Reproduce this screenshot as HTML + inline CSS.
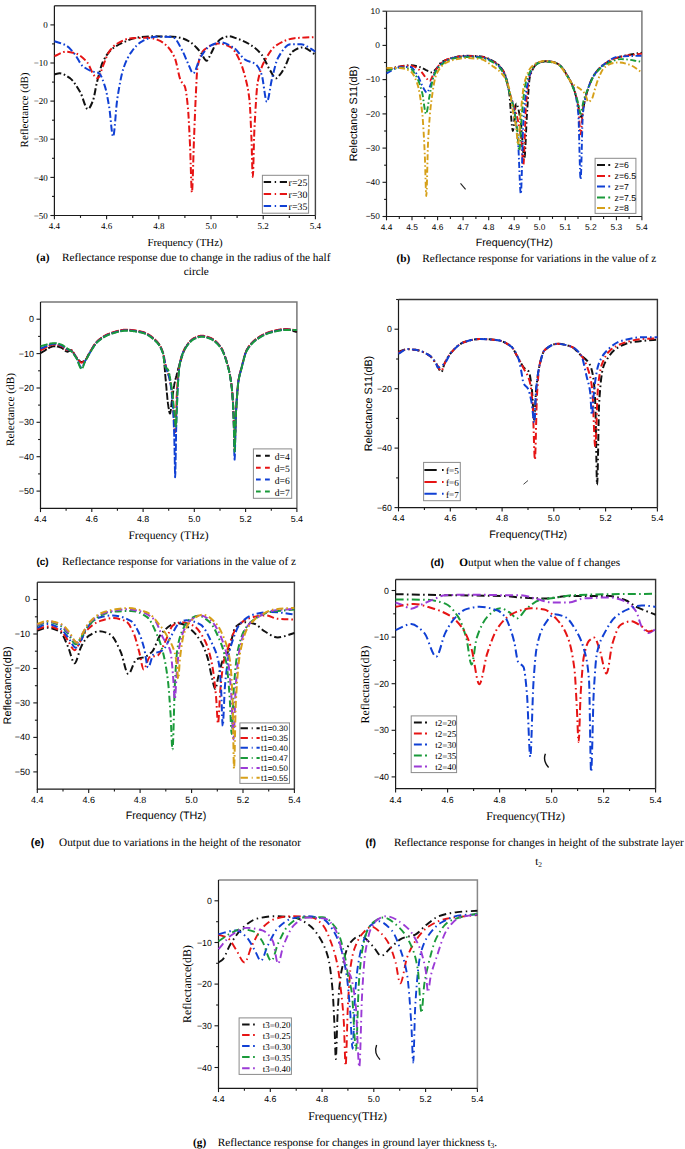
<!DOCTYPE html>
<html><head><meta charset="utf-8"><style>
html,body{margin:0;padding:0;background:#fff;}
svg{display:block;}
text{text-rendering:geometricPrecision;}
</style></head><body>
<svg width="685" height="1149" viewBox="0 0 685 1149">
<rect width="685" height="1149" fill="#fff"/>
<path d="M54.40,5.80 H315.40 V215.50" fill="none" stroke="#444" stroke-width="1.4"/>
<path d="M54.40,5.80 V215.50 H315.40" fill="none" stroke="#1a1a1a" stroke-width="1.2"/>
<line x1="50.4" y1="24.9" x2="54.4" y2="24.9" stroke="#1a1a1a" stroke-width="1.1"/>
<text x="47.8" y="28.1" font-size="9" font-family='"Liberation Serif", serif' text-anchor="end" font-weight="normal" >0</text>
<line x1="50.4" y1="63.0" x2="54.4" y2="63.0" stroke="#1a1a1a" stroke-width="1.1"/>
<text x="47.8" y="66.2" font-size="9" font-family='"Liberation Serif", serif' text-anchor="end" font-weight="normal" >−10</text>
<line x1="50.4" y1="101.1" x2="54.4" y2="101.1" stroke="#1a1a1a" stroke-width="1.1"/>
<text x="47.8" y="104.3" font-size="9" font-family='"Liberation Serif", serif' text-anchor="end" font-weight="normal" >−20</text>
<line x1="50.4" y1="139.2" x2="54.4" y2="139.2" stroke="#1a1a1a" stroke-width="1.1"/>
<text x="47.8" y="142.4" font-size="9" font-family='"Liberation Serif", serif' text-anchor="end" font-weight="normal" >−30</text>
<line x1="50.4" y1="177.4" x2="54.4" y2="177.4" stroke="#1a1a1a" stroke-width="1.1"/>
<text x="47.8" y="180.6" font-size="9" font-family='"Liberation Serif", serif' text-anchor="end" font-weight="normal" >−40</text>
<line x1="50.4" y1="215.5" x2="54.4" y2="215.5" stroke="#1a1a1a" stroke-width="1.1"/>
<text x="47.8" y="218.7" font-size="9" font-family='"Liberation Serif", serif' text-anchor="end" font-weight="normal" >−50</text>
<line x1="52.0" y1="43.9" x2="54.4" y2="43.9" stroke="#1a1a1a" stroke-width="1.1"/>
<line x1="52.0" y1="82.1" x2="54.4" y2="82.1" stroke="#1a1a1a" stroke-width="1.1"/>
<line x1="52.0" y1="120.2" x2="54.4" y2="120.2" stroke="#1a1a1a" stroke-width="1.1"/>
<line x1="52.0" y1="158.3" x2="54.4" y2="158.3" stroke="#1a1a1a" stroke-width="1.1"/>
<line x1="52.0" y1="196.4" x2="54.4" y2="196.4" stroke="#1a1a1a" stroke-width="1.1"/>
<line x1="54.4" y1="215.5" x2="54.4" y2="219.3" stroke="#1a1a1a" stroke-width="1.1"/>
<text x="54.4" y="228.7" font-size="9" font-family='"Liberation Serif", serif' text-anchor="middle" font-weight="normal" >4.4</text>
<line x1="106.6" y1="215.5" x2="106.6" y2="219.3" stroke="#1a1a1a" stroke-width="1.1"/>
<text x="106.6" y="228.7" font-size="9" font-family='"Liberation Serif", serif' text-anchor="middle" font-weight="normal" >4.6</text>
<line x1="158.8" y1="215.5" x2="158.8" y2="219.3" stroke="#1a1a1a" stroke-width="1.1"/>
<text x="158.8" y="228.7" font-size="9" font-family='"Liberation Serif", serif' text-anchor="middle" font-weight="normal" >4.8</text>
<line x1="211.0" y1="215.5" x2="211.0" y2="219.3" stroke="#1a1a1a" stroke-width="1.1"/>
<text x="211.0" y="228.7" font-size="9" font-family='"Liberation Serif", serif' text-anchor="middle" font-weight="normal" >5.0</text>
<line x1="263.2" y1="215.5" x2="263.2" y2="219.3" stroke="#1a1a1a" stroke-width="1.1"/>
<text x="263.2" y="228.7" font-size="9" font-family='"Liberation Serif", serif' text-anchor="middle" font-weight="normal" >5.2</text>
<line x1="315.4" y1="215.5" x2="315.4" y2="219.3" stroke="#1a1a1a" stroke-width="1.1"/>
<text x="315.4" y="228.7" font-size="9" font-family='"Liberation Serif", serif' text-anchor="middle" font-weight="normal" >5.4</text>
<line x1="80.5" y1="215.5" x2="80.5" y2="217.9" stroke="#1a1a1a" stroke-width="1.1"/>
<line x1="132.7" y1="215.5" x2="132.7" y2="217.9" stroke="#1a1a1a" stroke-width="1.1"/>
<line x1="184.9" y1="215.5" x2="184.9" y2="217.9" stroke="#1a1a1a" stroke-width="1.1"/>
<line x1="237.1" y1="215.5" x2="237.1" y2="217.9" stroke="#1a1a1a" stroke-width="1.1"/>
<line x1="289.3" y1="215.5" x2="289.3" y2="217.9" stroke="#1a1a1a" stroke-width="1.1"/>
<path d="M54.4,74.4C56.1,74.0 57.9,73.3 59.6,73.3C63.1,73.3 66.6,75.8 70.1,78.2C73.5,80.7 77.0,86.7 80.5,92.7C82.9,97.0 85.4,109.1 87.8,109.1C89.5,109.1 91.1,105.1 92.8,101.1C94.2,97.8 95.6,87.9 96.9,82.4C98.9,74.6 100.9,66.0 102.9,61.8C105.7,56.0 108.5,52.1 111.3,49.6C116.1,45.5 120.9,43.3 125.7,41.3C129.0,39.8 132.4,38.3 135.8,37.8C141.3,37.0 146.8,36.3 152.3,36.3C159.1,36.3 165.8,36.4 172.6,36.7C175.8,36.8 178.9,37.4 182.0,38.2C184.7,38.9 187.4,40.3 190.1,42.0C192.3,43.4 194.5,45.5 196.6,47.7C197.9,49.1 199.3,50.7 200.6,52.3C202.6,54.8 204.6,60.7 206.6,60.7C208.0,60.7 209.5,56.1 211.0,53.5C212.6,50.7 214.1,46.4 215.7,44.3C217.6,41.8 219.5,39.5 221.4,38.6C224.0,37.4 226.5,36.3 229.0,36.3C231.7,36.3 234.4,37.7 237.1,38.6C241.3,40.0 245.5,41.8 249.6,44.3C253.6,46.7 257.6,49.8 261.6,54.6C264.4,58.0 267.2,65.9 270.0,70.2C272.0,73.3 274.0,78.2 276.0,78.2C277.4,78.2 278.8,76.0 280.2,74.4C281.6,72.8 282.9,70.4 284.3,67.9C287.0,63.3 289.7,53.4 292.4,51.6C295.8,49.2 299.2,47.4 302.6,47.4C306.9,47.4 311.1,52.2 315.4,54.6" fill="none" stroke="#111111" stroke-width="2.0" stroke-dasharray="7 2.6 1.6 2.6" stroke-linejoin="round"/>
<path d="M54.4,56.1C58.3,54.6 62.2,51.6 66.1,51.6C69.6,51.6 73.1,52.6 76.6,53.8C80.0,55.0 83.4,58.1 86.8,61.8C89.5,64.8 92.2,74.1 94.9,76.3C95.9,77.2 96.9,78.2 98.0,78.2C99.6,78.2 101.3,70.0 102.9,66.0C105.0,61.1 107.1,54.5 109.2,51.6C111.9,47.7 114.6,45.1 117.3,43.5C122.1,40.8 126.9,38.4 131.7,38.2C137.2,38.0 142.8,37.8 148.4,37.8C151.7,37.8 155.0,39.0 158.3,40.1C161.0,41.1 163.7,43.0 166.4,45.5C169.2,48.0 171.9,51.6 174.7,57.7C176.7,62.0 178.7,76.4 180.7,80.5C182.1,83.4 183.5,83.2 184.9,86.6C185.9,89.2 187.0,97.8 188.0,108.7C188.7,116.0 189.4,132.2 190.1,146.9C190.7,159.7 191.3,192.2 191.9,192.2C192.6,192.2 193.3,156.8 194.0,139.2C194.6,123.9 195.3,105.5 195.9,93.5C196.4,83.2 196.9,70.7 197.4,67.9C199.8,55.5 202.1,51.5 204.5,49.6C209.3,45.8 214.0,43.5 218.8,43.5C222.9,43.5 227.0,45.2 231.1,47.4C233.9,48.9 236.7,54.2 239.4,59.9C241.4,64.1 243.5,70.3 245.5,78.2C246.8,83.8 248.2,88.0 249.6,101.1C250.2,106.8 250.8,124.3 251.5,139.2C251.9,149.9 252.3,177.0 252.8,177.0C253.3,177.0 253.8,142.1 254.3,131.6C255.5,108.8 256.6,88.5 257.7,82.4C260.4,68.0 263.1,63.7 265.8,58.8C269.2,52.6 272.6,47.6 276.0,45.5C282.2,41.5 288.3,38.8 294.5,38.2C301.5,37.5 308.4,37.4 315.4,37.1" fill="none" stroke="#e61414" stroke-width="2.0" stroke-dasharray="7 2.6 1.6 2.6" stroke-linejoin="round"/>
<path d="M54.4,41.3C58.3,42.7 62.2,43.3 66.1,45.5C68.9,47.0 71.7,50.5 74.5,53.8C77.2,57.1 79.9,63.7 82.6,66.0C85.4,68.4 88.2,69.9 90.9,71.0C93.6,72.0 96.3,71.9 99.0,73.3C101.0,74.3 103.0,80.4 105.0,86.6C106.4,91.0 107.8,98.9 109.2,107.2C110.5,115.0 111.8,136.6 113.1,136.6C114.5,136.6 115.9,107.9 117.3,98.8C119.4,85.2 121.5,74.1 123.6,67.9C126.3,60.1 129.0,55.2 131.7,51.6C135.1,46.9 138.6,43.0 142.1,41.3C146.8,38.9 151.5,36.7 156.2,36.7C161.7,36.7 167.2,36.8 172.6,37.1C176.0,37.2 179.4,45.4 182.8,51.6C184.6,54.8 186.5,60.4 188.3,64.1C189.9,67.5 191.6,73.3 193.3,73.3C195.6,73.3 197.9,61.3 200.3,57.7C203.8,52.2 207.3,47.1 210.7,45.5C214.1,43.8 217.5,42.4 220.9,42.4C225.0,42.4 229.1,45.0 233.2,47.4C237.3,49.7 241.4,57.6 245.5,59.9C248.8,61.9 252.2,61.8 255.6,64.1C257.6,65.5 259.6,69.2 261.6,74.4C263.4,79.0 265.1,101.9 266.9,101.9C268.6,101.9 270.3,85.1 272.1,78.2C274.1,70.4 276.1,61.1 278.1,57.7C282.3,50.4 286.4,44.3 290.6,44.3C294.1,44.3 297.6,44.3 301.0,44.3C305.8,44.3 310.6,49.1 315.4,51.6" fill="none" stroke="#1040d4" stroke-width="2.0" stroke-dasharray="7 2.6 1.6 2.6" stroke-linejoin="round"/>
<rect x="262.4" y="175.3" width="46.2" height="37.9" fill="#fff" stroke="#8a8a8a" stroke-width="1"/>
<path d="M263.7,181.9 H271.1 M274.7,181.9 H276.1 M279.8,181.9 H287.0" stroke="#111111" stroke-width="2.0" fill="none"/>
<text x="288.6" y="185.5" font-size="9.9" font-family='"Liberation Serif", serif' text-anchor="start" font-weight="normal" >r=25</text>
<path d="M263.7,194.1 H271.1 M274.7,194.1 H276.1 M279.8,194.1 H287.0" stroke="#e61414" stroke-width="2.0" fill="none"/>
<text x="288.6" y="197.7" font-size="9.9" font-family='"Liberation Serif", serif' text-anchor="start" font-weight="normal" >r=30</text>
<path d="M263.7,205.9 H271.1 M274.7,205.9 H276.1 M279.8,205.9 H287.0" stroke="#1040d4" stroke-width="2.0" fill="none"/>
<text x="288.6" y="209.5" font-size="9.9" font-family='"Liberation Serif", serif' text-anchor="start" font-weight="normal" >r=35</text>
<text x="0" y="0" font-size="11" font-family='"Liberation Serif", serif' text-anchor="middle" transform="translate(28.2,110.0) rotate(-90)">Reflectance (dB)</text>
<text x="147.4" y="246.3" font-size="10.88" font-family='"Liberation Serif", serif' text-anchor="start" font-weight="normal" >Frequency (THz)</text>
<text x="36.3" y="261.1" font-size="11.3" font-family='"Liberation Serif", serif' text-anchor="start" font-weight="bold" >(a)</text>
<text x="62.0" y="261.1" font-size="11.28" font-family='"Liberation Serif", serif' text-anchor="start" font-weight="normal" >Reflectance response due to change in the radius of the half</text>
<text x="183.8" y="274.7" font-size="11.28" font-family='"Liberation Serif", serif' text-anchor="start" font-weight="normal" >circle</text>
<path d="M386.50,11.20 H641.90 V216.50" fill="none" stroke="#7a7a7a" stroke-width="1.5"/>
<path d="M386.50,11.20 V216.50 H641.90" fill="none" stroke="#1a1a1a" stroke-width="1.2"/>
<line x1="382.5" y1="11.2" x2="386.5" y2="11.2" stroke="#1a1a1a" stroke-width="1.1"/>
<text x="379.9" y="13.8" font-size="8.4" font-family='"Liberation Sans", sans-serif' text-anchor="end" font-weight="normal" >10</text>
<line x1="382.5" y1="45.4" x2="386.5" y2="45.4" stroke="#1a1a1a" stroke-width="1.1"/>
<text x="379.9" y="48.0" font-size="8.4" font-family='"Liberation Sans", sans-serif' text-anchor="end" font-weight="normal" >0</text>
<line x1="382.5" y1="79.6" x2="386.5" y2="79.6" stroke="#1a1a1a" stroke-width="1.1"/>
<text x="379.9" y="82.2" font-size="8.4" font-family='"Liberation Sans", sans-serif' text-anchor="end" font-weight="normal" >−10</text>
<line x1="382.5" y1="113.9" x2="386.5" y2="113.9" stroke="#1a1a1a" stroke-width="1.1"/>
<text x="379.9" y="116.5" font-size="8.4" font-family='"Liberation Sans", sans-serif' text-anchor="end" font-weight="normal" >−20</text>
<line x1="382.5" y1="148.1" x2="386.5" y2="148.1" stroke="#1a1a1a" stroke-width="1.1"/>
<text x="379.9" y="150.7" font-size="8.4" font-family='"Liberation Sans", sans-serif' text-anchor="end" font-weight="normal" >−30</text>
<line x1="382.5" y1="182.3" x2="386.5" y2="182.3" stroke="#1a1a1a" stroke-width="1.1"/>
<text x="379.9" y="184.9" font-size="8.4" font-family='"Liberation Sans", sans-serif' text-anchor="end" font-weight="normal" >−40</text>
<line x1="382.5" y1="216.5" x2="386.5" y2="216.5" stroke="#1a1a1a" stroke-width="1.1"/>
<text x="379.9" y="219.1" font-size="8.4" font-family='"Liberation Sans", sans-serif' text-anchor="end" font-weight="normal" >−50</text>
<line x1="384.1" y1="28.3" x2="386.5" y2="28.3" stroke="#1a1a1a" stroke-width="1.1"/>
<line x1="384.1" y1="62.5" x2="386.5" y2="62.5" stroke="#1a1a1a" stroke-width="1.1"/>
<line x1="384.1" y1="96.7" x2="386.5" y2="96.7" stroke="#1a1a1a" stroke-width="1.1"/>
<line x1="384.1" y1="131.0" x2="386.5" y2="131.0" stroke="#1a1a1a" stroke-width="1.1"/>
<line x1="384.1" y1="165.2" x2="386.5" y2="165.2" stroke="#1a1a1a" stroke-width="1.1"/>
<line x1="384.1" y1="199.4" x2="386.5" y2="199.4" stroke="#1a1a1a" stroke-width="1.1"/>
<line x1="386.5" y1="216.5" x2="386.5" y2="220.3" stroke="#1a1a1a" stroke-width="1.1"/>
<text x="386.5" y="229.5" font-size="8.4" font-family='"Liberation Sans", sans-serif' text-anchor="middle" font-weight="normal" >4.4</text>
<line x1="412.0" y1="216.5" x2="412.0" y2="220.3" stroke="#1a1a1a" stroke-width="1.1"/>
<text x="412.0" y="229.5" font-size="8.4" font-family='"Liberation Sans", sans-serif' text-anchor="middle" font-weight="normal" >4.5</text>
<line x1="437.6" y1="216.5" x2="437.6" y2="220.3" stroke="#1a1a1a" stroke-width="1.1"/>
<text x="437.6" y="229.5" font-size="8.4" font-family='"Liberation Sans", sans-serif' text-anchor="middle" font-weight="normal" >4.6</text>
<line x1="463.1" y1="216.5" x2="463.1" y2="220.3" stroke="#1a1a1a" stroke-width="1.1"/>
<text x="463.1" y="229.5" font-size="8.4" font-family='"Liberation Sans", sans-serif' text-anchor="middle" font-weight="normal" >4.7</text>
<line x1="488.7" y1="216.5" x2="488.7" y2="220.3" stroke="#1a1a1a" stroke-width="1.1"/>
<text x="488.7" y="229.5" font-size="8.4" font-family='"Liberation Sans", sans-serif' text-anchor="middle" font-weight="normal" >4.8</text>
<line x1="514.2" y1="216.5" x2="514.2" y2="220.3" stroke="#1a1a1a" stroke-width="1.1"/>
<text x="514.2" y="229.5" font-size="8.4" font-family='"Liberation Sans", sans-serif' text-anchor="middle" font-weight="normal" >4.9</text>
<line x1="539.7" y1="216.5" x2="539.7" y2="220.3" stroke="#1a1a1a" stroke-width="1.1"/>
<text x="539.7" y="229.5" font-size="8.4" font-family='"Liberation Sans", sans-serif' text-anchor="middle" font-weight="normal" >5.0</text>
<line x1="565.3" y1="216.5" x2="565.3" y2="220.3" stroke="#1a1a1a" stroke-width="1.1"/>
<text x="565.3" y="229.5" font-size="8.4" font-family='"Liberation Sans", sans-serif' text-anchor="middle" font-weight="normal" >5.1</text>
<line x1="590.8" y1="216.5" x2="590.8" y2="220.3" stroke="#1a1a1a" stroke-width="1.1"/>
<text x="590.8" y="229.5" font-size="8.4" font-family='"Liberation Sans", sans-serif' text-anchor="middle" font-weight="normal" >5.2</text>
<line x1="616.4" y1="216.5" x2="616.4" y2="220.3" stroke="#1a1a1a" stroke-width="1.1"/>
<text x="616.4" y="229.5" font-size="8.4" font-family='"Liberation Sans", sans-serif' text-anchor="middle" font-weight="normal" >5.3</text>
<line x1="641.9" y1="216.5" x2="641.9" y2="220.3" stroke="#1a1a1a" stroke-width="1.1"/>
<text x="641.9" y="229.5" font-size="8.4" font-family='"Liberation Sans", sans-serif' text-anchor="middle" font-weight="normal" >5.4</text>
<line x1="399.3" y1="216.5" x2="399.3" y2="218.9" stroke="#1a1a1a" stroke-width="1.1"/>
<line x1="424.8" y1="216.5" x2="424.8" y2="218.9" stroke="#1a1a1a" stroke-width="1.1"/>
<line x1="450.4" y1="216.5" x2="450.4" y2="218.9" stroke="#1a1a1a" stroke-width="1.1"/>
<line x1="475.9" y1="216.5" x2="475.9" y2="218.9" stroke="#1a1a1a" stroke-width="1.1"/>
<line x1="501.4" y1="216.5" x2="501.4" y2="218.9" stroke="#1a1a1a" stroke-width="1.1"/>
<line x1="527.0" y1="216.5" x2="527.0" y2="218.9" stroke="#1a1a1a" stroke-width="1.1"/>
<line x1="552.5" y1="216.5" x2="552.5" y2="218.9" stroke="#1a1a1a" stroke-width="1.1"/>
<line x1="578.0" y1="216.5" x2="578.0" y2="218.9" stroke="#1a1a1a" stroke-width="1.1"/>
<line x1="603.6" y1="216.5" x2="603.6" y2="218.9" stroke="#1a1a1a" stroke-width="1.1"/>
<line x1="629.1" y1="216.5" x2="629.1" y2="218.9" stroke="#1a1a1a" stroke-width="1.1"/>
<path d="M386.5,70.1C390.8,68.9 395.0,67.3 399.3,66.6C402.9,66.0 406.6,65.3 410.3,65.3C413.4,65.3 416.6,66.1 419.7,67.0C421.8,67.6 424.0,69.1 426.1,70.1C427.9,70.9 429.7,72.4 431.5,72.4C433.1,72.4 434.7,70.2 436.3,68.7C438.2,66.9 440.0,63.0 441.9,61.8C446.0,59.4 450.1,58.2 454.2,57.4C458.3,56.6 462.4,55.7 466.4,55.7C471.1,55.7 475.8,56.0 480.5,56.4C485.2,56.8 489.9,59.1 494.5,61.8C497.8,63.8 501.0,66.6 504.2,72.4C505.8,75.2 507.3,81.4 508.8,89.9C510.2,97.5 511.6,131.0 512.9,131.0C514.0,131.0 515.1,103.6 516.2,103.6C517.7,103.6 519.1,112.5 520.6,120.7C521.9,127.9 523.1,158.3 524.4,158.3C525.3,158.3 526.1,126.2 527.0,113.9C528.0,99.1 529.0,79.3 530.0,76.2C533.2,66.6 536.3,63.1 539.5,62.2C541.5,61.6 543.6,61.2 545.6,61.2C547.7,61.2 549.9,61.5 552.0,61.8C554.0,62.2 555.9,62.9 557.9,63.9C559.3,64.6 560.8,66.1 562.2,67.7C563.5,69.1 564.8,71.3 566.0,73.5C568.8,78.1 571.5,82.3 574.2,89.9C575.6,93.7 576.9,101.2 578.3,106.3C579.3,110.2 580.3,117.3 581.4,117.3C582.6,117.3 583.9,103.2 585.2,98.5C587.7,89.3 590.1,81.8 592.6,77.6C596.0,71.7 599.4,67.8 602.8,65.3C608.3,61.3 613.7,58.6 619.2,57.1C626.7,54.9 634.3,54.1 641.9,52.6" fill="none" stroke="#111111" stroke-width="1.9" stroke-dasharray="6 2.5 1.5 2.5" stroke-linejoin="round"/>
<path d="M386.5,70.7C390.8,69.4 395.0,67.2 399.3,66.6C402.9,66.1 406.6,65.6 410.3,65.6C413.4,65.6 416.6,67.8 419.7,70.1C421.8,71.5 424.0,75.8 426.1,77.9C427.3,79.1 428.5,81.0 429.7,81.0C431.0,81.0 432.4,75.7 433.7,73.5C436.5,69.1 439.2,63.9 441.9,62.2C446.0,59.6 450.1,58.1 454.2,57.4C458.3,56.7 462.4,56.0 466.4,56.0C471.1,56.0 475.8,56.3 480.5,56.7C485.2,57.1 489.9,59.4 494.5,62.2C497.8,64.1 501.0,66.9 504.2,72.8C505.8,75.6 507.3,84.6 508.8,89.9C510.6,96.1 512.4,101.0 514.2,107.0C515.5,111.3 516.8,114.9 518.0,120.7C519.1,125.7 520.2,132.0 521.4,141.2C522.0,146.9 522.7,165.2 523.4,165.2C524.2,165.2 525.1,117.9 525.9,107.0C527.1,91.7 528.3,79.5 529.5,76.2C532.8,67.1 536.2,63.1 539.5,62.2C541.5,61.6 543.6,61.2 545.6,61.2C547.7,61.2 549.9,61.5 552.0,61.8C554.0,62.2 555.9,62.9 557.9,63.9C559.3,64.6 560.8,66.1 562.2,67.7C563.5,69.1 564.8,71.3 566.0,73.5C568.8,78.1 571.5,82.2 574.2,89.9C575.6,93.7 576.9,98.2 578.3,107.0C579.1,112.0 579.8,134.4 580.6,134.4C581.5,134.4 582.3,112.0 583.2,107.0C584.3,100.5 585.4,97.6 586.5,94.0C588.5,87.4 590.6,81.1 592.6,77.6C596.0,71.7 599.4,67.8 602.8,65.3C608.3,61.3 613.7,58.4 619.2,57.1C626.7,55.2 634.3,54.8 641.9,53.6" fill="none" stroke="#e61414" stroke-width="1.9" stroke-dasharray="6 2.5 1.5 2.5" stroke-linejoin="round"/>
<path d="M386.5,73.5C390.8,71.4 395.0,67.6 399.3,67.3C402.9,67.1 406.6,67.0 410.3,67.0C412.6,67.0 414.8,71.2 417.1,74.5C419.3,77.6 421.4,84.8 423.5,88.2C424.6,90.0 425.7,92.6 426.9,92.6C428.3,92.6 429.7,86.5 431.2,83.1C432.9,78.9 434.6,71.8 436.3,69.4C438.9,65.7 441.4,63.7 444.0,62.2C447.4,60.1 450.8,58.4 454.2,57.7C458.3,57.0 462.4,56.4 466.4,56.4C471.1,56.4 475.8,56.6 480.5,57.1C485.2,57.5 489.9,59.7 494.5,62.5C497.8,64.5 501.0,67.6 504.2,73.5C505.8,76.3 507.3,84.2 508.8,89.9C510.6,96.5 512.4,101.0 514.2,110.4C515.5,117.2 516.8,126.6 518.0,141.2C519.0,152.0 519.9,193.9 520.8,193.9C521.7,193.9 522.5,133.3 523.4,120.7C524.6,103.1 525.8,92.6 527.0,86.5C528.7,77.8 530.4,71.9 532.1,69.4C534.5,65.7 537.0,63.4 539.5,62.5C541.5,61.8 543.6,61.2 545.6,61.2C547.7,61.2 549.9,61.5 552.0,61.8C554.0,62.2 555.9,62.9 557.9,63.9C559.3,64.6 560.8,66.1 562.2,67.7C563.5,69.1 564.8,71.3 566.0,73.5C568.8,78.1 571.5,81.3 574.2,89.9C575.6,94.2 576.9,99.7 578.3,113.9C579.1,121.8 579.8,179.5 580.6,179.5C581.4,179.5 582.1,121.3 582.9,113.9C584.1,102.2 585.3,98.4 586.5,94.0C588.5,86.4 590.6,81.1 592.6,77.6C596.0,71.7 599.4,67.9 602.8,65.3C607.9,61.3 613.0,57.1 618.1,56.7C626.1,56.0 634.0,56.0 641.9,55.7" fill="none" stroke="#1040d4" stroke-width="1.9" stroke-dasharray="6 2.5 1.5 2.5" stroke-linejoin="round"/>
<path d="M386.5,70.7C390.8,69.8 395.0,68.0 399.3,68.0C402.9,68.0 406.6,68.2 410.3,68.7C412.6,69.0 414.8,73.6 417.1,77.9C418.9,81.1 420.6,86.7 422.3,93.3C423.5,98.3 424.8,113.9 426.1,113.9C427.2,113.9 428.3,102.2 429.4,96.7C430.9,89.6 432.3,79.8 433.7,76.2C435.9,70.9 438.0,67.8 440.1,65.9C444.8,61.9 449.5,59.3 454.2,58.4C458.3,57.7 462.4,57.1 466.4,57.1C471.1,57.1 475.8,57.3 480.5,57.7C485.2,58.1 489.9,60.4 494.5,63.2C497.8,65.2 501.0,68.6 504.2,74.5C505.8,77.3 507.3,84.4 508.8,89.9C510.6,96.3 512.4,101.5 514.2,110.4C515.2,115.5 516.2,122.8 517.3,131.0C517.9,136.4 518.6,150.5 519.3,150.5C520.2,150.5 521.0,122.8 521.9,113.9C523.1,100.4 524.4,87.8 525.7,83.1C527.8,75.2 529.9,71.3 532.1,68.7C534.5,65.7 537.0,63.2 539.5,62.5C541.5,62.0 543.6,61.5 545.6,61.5C547.7,61.5 549.9,61.8 552.0,62.2C554.0,62.5 555.9,63.2 557.9,64.2C559.3,65.0 560.8,66.4 562.2,68.0C563.5,69.4 564.8,71.6 566.0,73.8C568.8,78.5 571.5,83.6 574.2,90.6C575.6,94.1 576.9,98.4 578.3,103.6C579.1,106.5 579.8,113.9 580.6,113.9C581.6,113.9 582.6,103.6 583.7,100.2C585.2,95.0 586.7,91.8 588.3,88.2C590.4,83.2 592.5,77.3 594.7,74.5C598.5,69.5 602.3,66.2 606.1,64.2C611.1,61.7 616.0,59.1 621.0,59.1C627.9,59.1 634.9,60.9 641.9,61.8" fill="none" stroke="#1a9a3a" stroke-width="1.9" stroke-dasharray="6 2.5 1.5 2.5" stroke-linejoin="round"/>
<path d="M386.5,68.0C390.8,68.0 395.0,68.0 399.3,68.0C402.9,68.0 406.6,69.2 410.3,71.1C412.6,72.3 414.8,76.7 417.1,83.1C418.9,87.8 420.6,98.1 422.3,113.9C423.1,121.7 424.0,137.4 424.8,154.9C425.3,165.4 425.8,196.0 426.3,196.0C426.9,196.0 427.5,152.2 428.1,141.2C429.2,120.9 430.3,108.6 431.5,100.2C433.1,87.9 434.7,78.0 436.3,74.5C439.3,68.0 442.3,65.0 445.2,63.2C448.2,61.5 451.2,60.4 454.2,59.8C458.3,58.9 462.4,58.1 466.4,58.1C471.1,58.1 475.8,58.5 480.5,59.1C484.5,59.6 488.5,63.1 492.5,65.9C496.4,68.7 500.3,71.1 504.2,76.6C505.9,78.8 507.5,82.6 509.1,88.2C510.5,93.2 512.0,106.2 513.4,113.9C514.4,118.8 515.3,121.3 516.2,127.5C516.8,131.5 517.4,144.6 518.0,144.6C518.9,144.6 519.7,122.2 520.6,113.9C521.9,101.4 523.1,88.0 524.4,83.1C526.5,74.8 528.7,70.0 530.8,67.7C533.7,64.5 536.6,62.6 539.5,61.8C541.5,61.3 543.6,60.8 545.6,60.8C547.7,60.8 549.9,61.3 552.0,61.8C554.0,62.3 555.9,63.1 557.9,64.2C559.3,65.1 560.8,66.9 562.2,68.7C563.5,70.3 564.8,72.6 566.0,74.5C568.3,77.9 570.6,82.0 572.9,84.1C574.6,85.6 576.3,86.3 578.0,87.5C579.8,88.7 581.5,89.8 583.2,91.6C584.0,92.5 584.9,93.8 585.7,95.4C586.6,97.0 587.4,101.9 588.3,101.9C589.5,101.9 590.8,100.3 592.1,98.5C592.9,97.2 593.8,92.6 594.7,89.9C595.4,87.4 596.2,84.9 596.9,82.7C598.0,79.8 599.0,77.1 600.0,74.8C601.0,72.6 602.1,70.2 603.1,69.0C605.0,66.8 606.8,65.5 608.7,64.6C610.4,63.8 612.1,63.1 613.8,62.9C615.5,62.7 617.2,62.5 618.9,62.5C622.3,62.5 625.7,63.6 629.1,64.6C633.4,65.8 637.6,69.8 641.9,72.4" fill="none" stroke="#d6a019" stroke-width="1.9" stroke-dasharray="6 2.5 1.5 2.5" stroke-linejoin="round"/>
<rect x="595.1" y="158.3" width="40.8" height="55.1" fill="#fff" stroke="#8a8a8a" stroke-width="1"/>
<path d="M597.0,165.0 H605.0 M608.3,165.0 H610.2" stroke="#111111" stroke-width="2.0" fill="none"/>
<text x="614.6" y="168.1" font-size="8.7" font-family='"Liberation Sans", sans-serif' text-anchor="start" font-weight="normal" >z=6</text>
<path d="M597.0,176.0 H605.0 M608.3,176.0 H610.2" stroke="#e61414" stroke-width="2.0" fill="none"/>
<text x="614.6" y="179.1" font-size="8.7" font-family='"Liberation Sans", sans-serif' text-anchor="start" font-weight="normal" >z=6.5</text>
<path d="M597.0,186.6 H605.0 M608.3,186.6 H610.2" stroke="#1040d4" stroke-width="2.0" fill="none"/>
<text x="614.6" y="189.7" font-size="8.7" font-family='"Liberation Sans", sans-serif' text-anchor="start" font-weight="normal" >z=7</text>
<path d="M597.0,197.4 H605.0 M608.3,197.4 H610.2" stroke="#1a9a3a" stroke-width="2.0" fill="none"/>
<text x="614.6" y="200.5" font-size="8.7" font-family='"Liberation Sans", sans-serif' text-anchor="start" font-weight="normal" >z=7.5</text>
<path d="M597.0,208.0 H605.0 M608.3,208.0 H610.2" stroke="#d6a019" stroke-width="2.0" fill="none"/>
<text x="614.6" y="211.1" font-size="8.7" font-family='"Liberation Sans", sans-serif' text-anchor="start" font-weight="normal" >z=8</text>
<text x="0" y="0" font-size="10.75" font-family='"Liberation Sans", sans-serif' text-anchor="middle" transform="translate(357.0,113.5) rotate(-90)">Relectance S11(dB)</text>
<text x="475.7" y="246.1" font-size="10.7" font-family='"Liberation Sans", sans-serif' text-anchor="start" font-weight="normal" >Frequency(THz)</text>
<text x="396.5" y="261.7" font-size="11.3" font-family='"Liberation Serif", serif' text-anchor="start" font-weight="bold" >(b)</text>
<text x="422.3" y="261.7" font-size="11.28" font-family='"Liberation Serif", serif' text-anchor="start" font-weight="normal" >Reflectance response for variations in the value of z</text>
<path d="M40.50,302.00 H296.90 V508.30" fill="none" stroke="#777" stroke-width="1.5"/>
<path d="M40.50,302.00 V508.30 H296.90" fill="none" stroke="#1a1a1a" stroke-width="1.2"/>
<line x1="36.5" y1="319.2" x2="40.5" y2="319.2" stroke="#1a1a1a" stroke-width="1.1"/>
<text x="33.9" y="322.3" font-size="8.9" font-family='"Liberation Sans", sans-serif' text-anchor="end" font-weight="normal" >0</text>
<line x1="36.5" y1="353.6" x2="40.5" y2="353.6" stroke="#1a1a1a" stroke-width="1.1"/>
<text x="33.9" y="356.7" font-size="8.9" font-family='"Liberation Sans", sans-serif' text-anchor="end" font-weight="normal" >−10</text>
<line x1="36.5" y1="388.0" x2="40.5" y2="388.0" stroke="#1a1a1a" stroke-width="1.1"/>
<text x="33.9" y="391.1" font-size="8.9" font-family='"Liberation Sans", sans-serif' text-anchor="end" font-weight="normal" >−20</text>
<line x1="36.5" y1="422.3" x2="40.5" y2="422.3" stroke="#1a1a1a" stroke-width="1.1"/>
<text x="33.9" y="425.4" font-size="8.9" font-family='"Liberation Sans", sans-serif' text-anchor="end" font-weight="normal" >−30</text>
<line x1="36.5" y1="456.7" x2="40.5" y2="456.7" stroke="#1a1a1a" stroke-width="1.1"/>
<text x="33.9" y="459.8" font-size="8.9" font-family='"Liberation Sans", sans-serif' text-anchor="end" font-weight="normal" >−40</text>
<line x1="36.5" y1="491.1" x2="40.5" y2="491.1" stroke="#1a1a1a" stroke-width="1.1"/>
<text x="33.9" y="494.2" font-size="8.9" font-family='"Liberation Sans", sans-serif' text-anchor="end" font-weight="normal" >−50</text>
<line x1="38.1" y1="336.4" x2="40.5" y2="336.4" stroke="#1a1a1a" stroke-width="1.1"/>
<line x1="38.1" y1="370.8" x2="40.5" y2="370.8" stroke="#1a1a1a" stroke-width="1.1"/>
<line x1="38.1" y1="405.1" x2="40.5" y2="405.1" stroke="#1a1a1a" stroke-width="1.1"/>
<line x1="38.1" y1="439.5" x2="40.5" y2="439.5" stroke="#1a1a1a" stroke-width="1.1"/>
<line x1="38.1" y1="473.9" x2="40.5" y2="473.9" stroke="#1a1a1a" stroke-width="1.1"/>
<line x1="40.5" y1="508.3" x2="40.5" y2="512.1" stroke="#1a1a1a" stroke-width="1.1"/>
<text x="40.5" y="522.0" font-size="8.9" font-family='"Liberation Sans", sans-serif' text-anchor="middle" font-weight="normal" >4.4</text>
<line x1="91.8" y1="508.3" x2="91.8" y2="512.1" stroke="#1a1a1a" stroke-width="1.1"/>
<text x="91.8" y="522.0" font-size="8.9" font-family='"Liberation Sans", sans-serif' text-anchor="middle" font-weight="normal" >4.6</text>
<line x1="143.1" y1="508.3" x2="143.1" y2="512.1" stroke="#1a1a1a" stroke-width="1.1"/>
<text x="143.1" y="522.0" font-size="8.9" font-family='"Liberation Sans", sans-serif' text-anchor="middle" font-weight="normal" >4.8</text>
<line x1="194.3" y1="508.3" x2="194.3" y2="512.1" stroke="#1a1a1a" stroke-width="1.1"/>
<text x="194.3" y="522.0" font-size="8.9" font-family='"Liberation Sans", sans-serif' text-anchor="middle" font-weight="normal" >5.0</text>
<line x1="245.6" y1="508.3" x2="245.6" y2="512.1" stroke="#1a1a1a" stroke-width="1.1"/>
<text x="245.6" y="522.0" font-size="8.9" font-family='"Liberation Sans", sans-serif' text-anchor="middle" font-weight="normal" >5.2</text>
<line x1="296.9" y1="508.3" x2="296.9" y2="512.1" stroke="#1a1a1a" stroke-width="1.1"/>
<text x="296.9" y="522.0" font-size="8.9" font-family='"Liberation Sans", sans-serif' text-anchor="middle" font-weight="normal" >5.4</text>
<line x1="66.1" y1="508.3" x2="66.1" y2="510.7" stroke="#1a1a1a" stroke-width="1.1"/>
<line x1="117.4" y1="508.3" x2="117.4" y2="510.7" stroke="#1a1a1a" stroke-width="1.1"/>
<line x1="168.7" y1="508.3" x2="168.7" y2="510.7" stroke="#1a1a1a" stroke-width="1.1"/>
<line x1="220.0" y1="508.3" x2="220.0" y2="510.7" stroke="#1a1a1a" stroke-width="1.1"/>
<line x1="271.3" y1="508.3" x2="271.3" y2="510.7" stroke="#1a1a1a" stroke-width="1.1"/>
<polyline points="40.5,353.1 40.8,352.9 41.0,352.8 41.3,352.7 41.5,352.5 41.8,352.4 42.0,352.2 42.3,352.1 42.6,351.9 42.8,351.8 43.1,351.6 43.3,351.5 43.6,351.3 43.8,351.1 44.1,351.0 44.3,350.8 44.6,350.6 44.9,350.5 45.1,350.3 45.4,350.1 45.6,350.0 45.9,349.8 46.1,349.6 46.4,349.5 46.7,349.3 46.9,349.2 47.2,349.0 47.4,348.8 47.7,348.7 47.9,348.5 48.2,348.4 48.4,348.2 48.7,348.1 49.0,347.9 49.2,347.8 49.5,347.7 49.7,347.5 50.0,347.4 50.2,347.3 50.5,347.2 50.8,347.1 51.0,347.0 51.3,346.9 51.5,346.8 51.8,346.7 52.0,346.6 52.3,346.5 52.6,346.5 52.8,346.4 53.1,346.3 53.3,346.3 53.6,346.3 53.8,346.2 54.1,346.2 54.3,346.2 54.6,346.2 54.9,346.2 55.1,346.2 55.4,346.2 55.6,346.2 55.9,346.3 56.1,346.3 56.4,346.3 56.7,346.4 56.9,346.4 57.2,346.5 57.4,346.5 57.7,346.6 57.9,346.6 58.2,346.7 58.4,346.8 58.7,346.8 59.0,346.9 59.2,347.0 59.5,347.1 59.7,347.2 60.0,347.2 60.2,347.3 60.5,347.4 60.8,347.5 61.0,347.6 61.3,347.7 61.5,347.8 61.8,347.9 62.0,348.1 62.3,348.3 62.6,348.4 62.8,348.6 63.1,348.9 63.3,349.1 63.6,349.3 63.8,349.5 64.1,349.8 64.3,350.0 64.6,350.2 64.9,350.4 65.1,350.6 65.4,350.8 65.6,351.0 65.9,351.2 66.1,351.3 66.4,351.4 66.7,351.5 66.9,351.6 67.2,351.7 67.4,351.7 67.7,351.7 67.9,351.6 68.2,351.5 68.4,351.4 68.7,351.3 69.0,351.1 69.2,351.0 69.5,350.8 69.7,350.7 70.0,350.6 70.2,350.5 70.5,350.4 70.8,350.3 71.0,350.3 71.3,350.3 71.5,350.4 71.8,350.6 72.0,350.8 72.3,351.1 72.5,351.4 72.8,351.8 73.1,352.1 73.3,352.6 73.6,353.0 73.8,353.4 74.1,353.9 74.3,354.4 74.6,354.8 74.9,355.3 75.1,355.7 75.4,356.1 75.6,356.5 75.9,356.9 76.1,357.2 76.4,357.5 76.7,357.8 76.9,358.1 77.2,358.4 77.4,358.7 77.7,359.0 77.9,359.3 78.2,359.6 78.4,359.9 78.7,360.2 79.0,360.4 79.2,360.7 79.5,360.9 79.7,361.2 80.0,361.4 80.2,361.6 80.5,361.7 80.8,361.8 81.0,361.9 81.3,362.0 81.5,362.0 81.8,362.0 82.0,362.0 82.3,361.9 82.5,361.8 82.8,361.8 83.1,361.7 83.3,361.5 83.6,361.4 83.8,361.3 84.1,361.1 84.3,361.0 84.6,360.8 84.9,360.6 85.1,360.5 85.4,360.3 85.6,360.1 85.9,359.8 86.1,359.4 86.4,359.1 86.7,358.6 86.9,358.2 87.2,357.7 87.4,357.1 87.7,356.6 87.9,356.1 88.2,355.5 88.4,355.0 88.7,354.5 89.0,354.0 89.2,353.5 89.5,353.1 89.7,352.6 90.0,352.2 90.2,351.8 90.5,351.4 90.8,350.9 91.0,350.5 91.3,350.1 91.5,349.6 91.8,349.2" fill="none" stroke="#111111" stroke-width="1.9" stroke-dasharray="7.5 1.8" stroke-dashoffset="0.00" stroke-linejoin="round"/>
<polyline points="91.8,349.2 92.0,348.8 92.3,348.4 92.5,347.9 92.8,347.5 93.1,347.1 93.3,346.7 93.6,346.3 93.8,345.9 94.1,345.5 94.3,345.1 94.6,344.7 94.9,344.4 95.1,344.0 95.4,343.7 95.6,343.3 95.9,343.0 96.1,342.7 96.4,342.4 96.7,342.1 96.9,341.9 97.2,341.6 97.4,341.4 97.7,341.1 97.9,340.9 98.2,340.7 98.4,340.5 98.7,340.3 99.0,340.1 99.2,339.8 99.5,339.6 99.7,339.4 100.0,339.2 100.2,339.0 100.5,338.8 100.8,338.7 101.0,338.5 101.3,338.3 101.5,338.1 101.8,337.9 102.0,337.7 102.3,337.6 102.5,337.4 102.8,337.2 103.1,337.1 103.3,336.9 103.6,336.7 103.8,336.6 104.1,336.4 104.3,336.3 104.6,336.1 104.9,336.0 105.1,335.8 105.4,335.7 105.6,335.6 105.9,335.4 106.1,335.3 106.4,335.2 106.7,335.0 106.9,334.9 107.2,334.8 107.4,334.7 107.7,334.5 107.9,334.4 108.2,334.3 108.4,334.2 108.7,334.1 109.0,334.0 109.2,333.9 109.5,333.8 109.7,333.7 110.0,333.6 110.2,333.5 110.5,333.5 110.8,333.4 111.0,333.3 111.3,333.2 111.5,333.1 111.8,333.0 112.0,333.0 112.3,332.9 112.5,332.8 112.8,332.7 113.1,332.6 113.3,332.5 113.6,332.5 113.8,332.4 114.1,332.3 114.3,332.2 114.6,332.1 114.9,332.1 115.1,332.0 115.4,331.9 115.6,331.8 115.9,331.8 116.1,331.7 116.4,331.6 116.7,331.5 116.9,331.5 117.2,331.4 117.4,331.3 117.7,331.3 117.9,331.2 118.2,331.1 118.4,331.1 118.7,331.0 119.0,330.9 119.2,330.9 119.5,330.8 119.7,330.8 120.0,330.7 120.2,330.7 120.5,330.6 120.8,330.6 121.0,330.5 121.3,330.5 121.5,330.4 121.8,330.4 122.0,330.3 122.3,330.3 122.5,330.3 122.8,330.2 123.1,330.2 123.3,330.2 123.6,330.2 123.8,330.1 124.1,330.1 124.3,330.1 124.6,330.1 124.9,330.1 125.1,330.0 125.4,330.0 125.6,330.0 125.9,330.0 126.1,330.0 126.4,330.0 126.7,330.0 126.9,330.0 127.2,330.0 127.4,330.0 127.7,330.0 127.9,330.1 128.2,330.1 128.4,330.1 128.7,330.1 129.0,330.1 129.2,330.1 129.5,330.1 129.7,330.2 130.0,330.2 130.2,330.2 130.5,330.2 130.8,330.2 131.0,330.3 131.3,330.3 131.5,330.3 131.8,330.3 132.0,330.4 132.3,330.4 132.5,330.4 132.8,330.5 133.1,330.5 133.3,330.5 133.6,330.6 133.8,330.6 134.1,330.6 134.3,330.7 134.6,330.7 134.9,330.7 135.1,330.8 135.4,330.8 135.6,330.9 135.9,330.9 136.1,330.9 136.4,331.0 136.6,331.0 136.9,331.1 137.2,331.1 137.4,331.2 137.7,331.2 137.9,331.3 138.2,331.3 138.4,331.3 138.7,331.4 139.0,331.4 139.2,331.5 139.5,331.5 139.7,331.6 140.0,331.7 140.2,331.7 140.5,331.8 140.8,331.8 141.0,331.9 141.3,331.9 141.5,332.0 141.8,332.0 142.0,332.1 142.3,332.1 142.5,332.2 142.8,332.3 143.1,332.3 143.3,332.4 143.6,332.5 143.8,332.6 144.1,332.7 144.3,332.8 144.6,332.9 144.9,333.0 145.1,333.1 145.4,333.2 145.6,333.3 145.9,333.4 146.1,333.5 146.4,333.7 146.6,333.8 146.9,333.9 147.2,334.1 147.4,334.2 147.7,334.4 147.9,334.5 148.2,334.7 148.4,334.8 148.7,335.0 149.0,335.1 149.2,335.3 149.5,335.5 149.7,335.6 150.0,335.8 150.2,336.0 150.5,336.2 150.8,336.4 151.0,336.6 151.3,336.8 151.5,337.0 151.8,337.2 152.0,337.4 152.3,337.6 152.5,337.8 152.8,338.0 153.1,338.2 153.3,338.4 153.6,338.6 153.8,338.8 154.1,339.1 154.3,339.3 154.6,339.5 154.9,339.8 155.1,340.0 155.4,340.2 155.6,340.5 155.9,340.7 156.1,340.9 156.4,341.2 156.6,341.4 156.9,341.7 157.2,341.9 157.4,342.2 157.7,342.5 157.9,342.8 158.2,343.1 158.4,343.4 158.7,343.7 159.0,344.1 159.2,344.4 159.5,344.8 159.7,345.2 160.0,345.6 160.2,346.1 160.5,346.6 160.8,347.1 161.0,347.6 161.3,348.2 161.5,348.8 161.8,349.4 162.0,350.1 162.3,350.8 162.5,351.5 162.8,352.3 163.1,353.1 163.3,354.2 163.6,356.0 163.8,358.3 164.1,361.0 164.3,363.9 164.6,367.0 164.9,370.3 165.1,373.4 165.4,376.4 165.6,379.2 165.9,381.9 166.1,384.7 166.4,387.5 166.6,390.4 166.9,393.3 167.2,396.0 167.4,398.6 167.7,401.0 167.9,403.2 168.2,405.0 168.4,406.7 168.7,408.3 169.0,410.0 169.2,411.4 169.5,412.5 169.7,413.3 170.0,413.6 170.2,413.1 170.5,411.9 170.8,410.1 171.0,408.0 171.3,405.7 171.5,403.5 171.8,401.5 172.0,399.8 172.3,398.0 172.5,396.1 172.8,394.3 173.1,392.4 173.3,390.6 173.6,388.9 173.8,387.2 174.1,385.7 174.3,384.3 174.6,383.1 174.9,381.9 175.1,380.8 175.4,379.8 175.6,378.8 175.9,377.8 176.1,376.9 176.4,376.0 176.6,375.0 176.9,374.0 177.2,373.0 177.4,372.1 177.7,371.1 177.9,370.1 178.2,369.1 178.4,368.2 178.7,367.2 179.0,366.3 179.2,365.4 179.5,364.5 179.7,363.7 180.0,362.9 180.2,362.1 180.5,361.3 180.8,360.5 181.0,359.6 181.3,358.8 181.5,358.0 181.8,357.2 182.0,356.4 182.3,355.7 182.5,354.9 182.8,354.2 183.1,353.4 183.3,352.7 183.6,352.0 183.8,351.3 184.1,350.7 184.3,350.1 184.6,349.5 184.9,348.9 185.1,348.3 185.4,347.8 185.6,347.4 185.9,346.9 186.1,346.5 186.4,346.1 186.6,345.8" fill="none" stroke="#111111" stroke-width="1.9" stroke-dasharray="7.5 1.8" stroke-dashoffset="75.85" stroke-linejoin="round"/>
<polyline points="186.6,345.8 186.9,345.4 187.2,345.1 187.4,344.7 187.7,344.4 187.9,344.0 188.2,343.7 188.4,343.4 188.7,343.1 189.0,342.8 189.2,342.5 189.5,342.2 189.7,341.9 190.0,341.6 190.2,341.3 190.5,341.1 190.8,340.8 191.0,340.6 191.3,340.4 191.5,340.1 191.8,339.9 192.0,339.7 192.3,339.5 192.5,339.3 192.8,339.2 193.1,339.0 193.3,338.8 193.6,338.7 193.8,338.5 194.1,338.4 194.3,338.3 194.6,338.2 194.9,338.0 195.1,337.9 195.4,337.8 195.6,337.7 195.9,337.6 196.1,337.5 196.4,337.4 196.6,337.3 196.9,337.2 197.2,337.1 197.4,337.0 197.7,336.9 197.9,336.8 198.2,336.7 198.4,336.6 198.7,336.5 199.0,336.5 199.2,336.4 199.5,336.3 199.7,336.3 200.0,336.2 200.2,336.2 200.5,336.1 200.8,336.1 201.0,336.1 201.3,336.1 201.5,336.0 201.8,336.0 202.0,336.0 202.3,336.1 202.5,336.1 202.8,336.1 203.1,336.1 203.3,336.1 203.6,336.2 203.8,336.2 204.1,336.3 204.3,336.3 204.6,336.4 204.9,336.4 205.1,336.5 205.4,336.5 205.6,336.6 205.9,336.7 206.1,336.7 206.4,336.8 206.6,336.9 206.9,337.0 207.2,337.0 207.4,337.1 207.7,337.2 207.9,337.3 208.2,337.4 208.4,337.5 208.7,337.6 209.0,337.7 209.2,337.7 209.5,337.8 209.7,337.9 210.0,338.0 210.2,338.1 210.5,338.2 210.7,338.3 211.0,338.5 211.3,338.6 211.5,338.7 211.8,338.9 212.0,339.0 212.3,339.1 212.5,339.3 212.8,339.5 213.1,339.6 213.3,339.8 213.6,340.0 213.8,340.1 214.1,340.3 214.3,340.5 214.6,340.7 214.9,340.9 215.1,341.1 215.4,341.4 215.6,341.6 215.9,341.8 216.1,342.0 216.4,342.3 216.6,342.5 216.9,342.8 217.2,343.0 217.4,343.3 217.7,343.5 217.9,343.8 218.2,344.1 218.4,344.4 218.7,344.7 219.0,345.0 219.2,345.3 219.5,345.6 219.7,345.9 220.0,346.2 220.2,346.5 220.5,346.9 220.7,347.2 221.0,347.6 221.3,348.0 221.5,348.5 221.8,348.9 222.0,349.4 222.3,349.9 222.5,350.4 222.8,351.0 223.1,351.5 223.3,352.1 223.6,352.7 223.8,353.4 224.1,354.0 224.3,354.7 224.6,355.4 224.9,356.1 225.1,356.8 225.4,357.6 225.6,358.3 225.9,359.1 226.1,359.9 226.4,360.8 226.6,361.6 226.9,362.5 227.2,363.4 227.4,364.3 227.7,365.2 227.9,366.1 228.2,367.1 228.4,368.1 228.7,369.1 229.0,370.2 229.2,371.3 229.5,372.5 229.7,373.8 230.0,375.1 230.2,376.6 230.5,378.1 230.7,379.8 231.0,381.5 231.3,383.4 231.5,385.4 231.8,387.6 232.0,389.8 232.3,392.6 232.5,396.2 232.8,400.4 233.1,405.0 233.3,410.0 233.6,415.3 233.8,422.6 234.1,431.7 234.3,439.5 234.6,442.8 234.9,440.6 235.1,435.2 235.4,428.1 235.6,420.9 235.9,415.3 236.1,411.0 236.4,406.7 236.6,402.5 236.9,398.5 237.2,394.8 237.4,391.3 237.7,388.1 237.9,385.2 238.2,382.8 238.4,380.9 238.7,379.3 239.0,377.9 239.2,376.6 239.5,375.5 239.7,374.4 240.0,373.5 240.2,372.5 240.5,371.6 240.7,370.8 241.0,369.8 241.3,368.9 241.5,367.9 241.8,366.9 242.0,365.8 242.3,364.8 242.5,363.8 242.8,362.7 243.1,361.7 243.3,360.7 243.6,359.7 243.8,358.7 244.1,357.7 244.3,356.8 244.6,355.9 244.9,355.0 245.1,354.2 245.4,353.4 245.6,352.7" fill="none" stroke="#111111" stroke-width="1.9" stroke-dasharray="7.5 1.8" stroke-dashoffset="320.10" stroke-linejoin="round"/>
<polyline points="245.6,352.7 245.9,352.0 246.1,351.4 246.4,350.8 246.6,350.3 246.9,349.9 247.2,349.4 247.4,349.0 247.7,348.6 247.9,348.2 248.2,347.8 248.4,347.4 248.7,347.0 249.0,346.6 249.2,346.3 249.5,345.9 249.7,345.6 250.0,345.3 250.2,344.9 250.5,344.6 250.7,344.3 251.0,344.0 251.3,343.7 251.5,343.5 251.8,343.2 252.0,342.9 252.3,342.6 252.5,342.4 252.8,342.1 253.1,341.9 253.3,341.7 253.6,341.4 253.8,341.2 254.1,341.0 254.3,340.8 254.6,340.5 254.9,340.3 255.1,340.1 255.4,339.9 255.6,339.7 255.9,339.5 256.1,339.4 256.4,339.2 256.6,339.0 256.9,338.8 257.2,338.6 257.4,338.4 257.7,338.3 257.9,338.1 258.2,337.9 258.4,337.7 258.7,337.6 259.0,337.4 259.2,337.2 259.5,337.1 259.7,336.9 260.0,336.8 260.2,336.6 260.5,336.4 260.7,336.3 261.0,336.1 261.3,336.0 261.5,335.8 261.8,335.7 262.0,335.5 262.3,335.4 262.5,335.2 262.8,335.1 263.1,335.0 263.3,334.8 263.6,334.7 263.8,334.6 264.1,334.4 264.3,334.3 264.6,334.2 264.8,334.1 265.1,334.0 265.4,333.8 265.6,333.7 265.9,333.6 266.1,333.5 266.4,333.4 266.6,333.3 266.9,333.2 267.2,333.1 267.4,333.0 267.7,332.9 267.9,332.8 268.2,332.7 268.4,332.6 268.7,332.5 269.0,332.5 269.2,332.4 269.5,332.3 269.7,332.2 270.0,332.2 270.2,332.1 270.5,332.0 270.7,332.0 271.0,331.9 271.3,331.8 271.5,331.7 271.8,331.7 272.0,331.6 272.3,331.5 272.5,331.5 272.8,331.4 273.1,331.3 273.3,331.3 273.6,331.2 273.8,331.2 274.1,331.1 274.3,331.0 274.6,331.0 274.8,330.9 275.1,330.8 275.4,330.8 275.6,330.7 275.9,330.7 276.1,330.6 276.4,330.5 276.6,330.5 276.9,330.4 277.2,330.4 277.4,330.3 277.7,330.3 277.9,330.2 278.2,330.2 278.4,330.1 278.7,330.1 279.0,330.0 279.2,330.0 279.5,329.9 279.7,329.9 280.0,329.8 280.2,329.8 280.5,329.8 280.7,329.7 281.0,329.7 281.3,329.7 281.5,329.6 281.8,329.6 282.0,329.6 282.3,329.5 282.5,329.5 282.8,329.5 283.1,329.5 283.3,329.4 283.6,329.4 283.8,329.4 284.1,329.4 284.3,329.4 284.6,329.4 284.8,329.4 285.1,329.3 285.4,329.3 285.6,329.3 285.9,329.3 286.1,329.3 286.4,329.3 286.6,329.4 286.9,329.4 287.2,329.4 287.4,329.4 287.7,329.5 287.9,329.5 288.2,329.6 288.4,329.6 288.7,329.6 289.0,329.7 289.2,329.8 289.5,329.8 289.7,329.9 290.0,330.0 290.2,330.0 290.5,330.1 290.7,330.2 291.0,330.2 291.3,330.3 291.5,330.4 291.8,330.5 292.0,330.6 292.3,330.7 292.5,330.7 292.8,330.8 293.1,330.9 293.3,331.0 293.6,331.1 293.8,331.2 294.1,331.2 294.3,331.3 294.6,331.4 294.8,331.5 295.1,331.6 295.4,331.7 295.6,331.7 295.9,331.8 296.1,331.9 296.4,332.0 296.6,332.0 296.9,332.1" fill="none" stroke="#111111" stroke-width="1.9" stroke-dasharray="7.5 1.8" stroke-dashoffset="566.73" stroke-linejoin="round"/>
<polyline points="40.5,350.3 40.8,350.2 41.0,350.1 41.3,350.0 41.5,349.9 41.8,349.7 42.0,349.6 42.3,349.5 42.6,349.4 42.8,349.2 43.1,349.1 43.3,349.0 43.6,348.8 43.8,348.7 44.1,348.5 44.3,348.4 44.6,348.3 44.9,348.1 45.1,348.0 45.4,347.8 45.6,347.7 45.9,347.6 46.1,347.4 46.4,347.3 46.7,347.1 46.9,347.0 47.2,346.9 47.4,346.7 47.7,346.6 47.9,346.5 48.2,346.3 48.4,346.2 48.7,346.1 49.0,346.0 49.2,345.8 49.5,345.7 49.7,345.6 50.0,345.5 50.2,345.4 50.5,345.3 50.8,345.2 51.0,345.1 51.3,345.0 51.5,345.0 51.8,344.9 52.0,344.8 52.3,344.8 52.6,344.7 52.8,344.6 53.1,344.6 53.3,344.6 53.6,344.5 53.8,344.5 54.1,344.5 54.3,344.5 54.6,344.5 54.9,344.5 55.1,344.5 55.4,344.5 55.6,344.5 55.9,344.5 56.1,344.6 56.4,344.6 56.7,344.7 56.9,344.7 57.2,344.7 57.4,344.8 57.7,344.9 57.9,344.9 58.2,345.0 58.4,345.1 58.7,345.1 59.0,345.2 59.2,345.3 59.5,345.4 59.7,345.4 60.0,345.5 60.2,345.6 60.5,345.7 60.8,345.8 61.0,345.8 61.3,345.9 61.5,346.1 61.8,346.2 62.0,346.4 62.3,346.5 62.6,346.7 62.8,346.9 63.1,347.1 63.3,347.4 63.6,347.6 63.8,347.8 64.1,348.0 64.3,348.3 64.6,348.5 64.9,348.7 65.1,348.9 65.4,349.1 65.6,349.3 65.9,349.5 66.1,349.6 66.4,349.7 66.7,349.8 66.9,349.9 67.2,349.9 67.4,350.0 67.7,350.0 67.9,350.0 68.2,350.0 68.4,350.0 68.7,350.0 69.0,350.0 69.2,350.0 69.5,350.0 69.7,350.0 70.0,350.0 70.2,350.0 70.5,350.0 70.8,350.0 71.0,350.0 71.3,350.0 71.5,350.1 71.8,350.3 72.0,350.5 72.3,350.7 72.5,351.0 72.8,351.4 73.1,351.7 73.3,352.1 73.6,352.6 73.8,353.0 74.1,353.4 74.3,353.9 74.6,354.4 74.9,354.8 75.1,355.3 75.4,355.7 75.6,356.1 75.9,356.5 76.1,356.9 76.4,357.2 76.7,357.5 76.9,357.8 77.2,358.2 77.4,358.5 77.7,358.9 77.9,359.3 78.2,359.6 78.4,360.0 78.7,360.4 79.0,360.7 79.2,361.0 79.5,361.3 79.7,361.6 80.0,361.9 80.2,362.1 80.5,362.3 80.8,362.5 81.0,362.6 81.3,362.7 81.5,362.7 81.8,362.7 82.0,362.6 82.3,362.5 82.5,362.4 82.8,362.3 83.1,362.1 83.3,361.9 83.6,361.7 83.8,361.5 84.1,361.2 84.3,361.0 84.6,360.7 84.9,360.5 85.1,360.2 85.4,359.9 85.6,359.7 85.9,359.3 86.1,358.9 86.4,358.5 86.7,358.1 86.9,357.6 87.2,357.1 87.4,356.6 87.7,356.1 87.9,355.6 88.2,355.1 88.4,354.6 88.7,354.1 89.0,353.6 89.2,353.1 89.5,352.7 89.7,352.3 90.0,351.9 90.2,351.5 90.5,351.0 90.8,350.6 91.0,350.2 91.3,349.7 91.5,349.3 91.8,348.9" fill="none" stroke="#e61414" stroke-width="1.9" stroke-dasharray="7.5 1.8" stroke-dashoffset="0.00" stroke-linejoin="round"/>
<polyline points="91.8,348.9 92.0,348.4 92.3,348.0 92.5,347.6 92.8,347.2 93.1,346.8 93.3,346.3 93.6,345.9 93.8,345.5 94.1,345.2 94.3,344.8 94.6,344.4 94.9,344.0 95.1,343.7 95.4,343.3 95.6,343.0 95.9,342.7 96.1,342.4 96.4,342.1 96.7,341.8 96.9,341.5 97.2,341.3 97.4,341.0 97.7,340.8 97.9,340.6 98.2,340.4 98.4,340.1 98.7,339.9 99.0,339.7 99.2,339.5 99.5,339.3 99.7,339.1 100.0,338.9 100.2,338.7 100.5,338.5 100.8,338.3 101.0,338.1 101.3,337.9 101.5,337.8 101.8,337.6 102.0,337.4 102.3,337.2 102.5,337.0 102.8,336.9 103.1,336.7 103.3,336.6 103.6,336.4 103.8,336.2 104.1,336.1 104.3,335.9 104.6,335.8 104.9,335.6 105.1,335.5 105.4,335.3 105.6,335.2 105.9,335.1 106.1,334.9 106.4,334.8 106.7,334.7 106.9,334.6 107.2,334.4 107.4,334.3 107.7,334.2 107.9,334.1 108.2,334.0 108.4,333.9 108.7,333.8 109.0,333.7 109.2,333.6 109.5,333.5 109.7,333.4 110.0,333.3 110.2,333.2 110.5,333.1 110.8,333.0 111.0,332.9 111.3,332.9 111.5,332.8 111.8,332.7 112.0,332.6 112.3,332.5 112.5,332.4 112.8,332.4 113.1,332.3 113.3,332.2 113.6,332.1 113.8,332.0 114.1,332.0 114.3,331.9 114.6,331.8 114.9,331.7 115.1,331.6 115.4,331.6 115.6,331.5 115.9,331.4 116.1,331.3 116.4,331.3 116.7,331.2 116.9,331.1 117.2,331.1 117.4,331.0 117.7,330.9 117.9,330.9 118.2,330.8 118.4,330.7 118.7,330.7 119.0,330.6 119.2,330.5 119.5,330.5 119.7,330.4 120.0,330.4 120.2,330.3 120.5,330.3 120.8,330.2 121.0,330.2 121.3,330.1 121.5,330.1 121.8,330.0 122.0,330.0 122.3,330.0 122.5,329.9 122.8,329.9 123.1,329.9 123.3,329.8 123.6,329.8 123.8,329.8 124.1,329.8 124.3,329.7 124.6,329.7 124.9,329.7 125.1,329.7 125.4,329.7 125.6,329.7 125.9,329.7 126.1,329.7 126.4,329.7 126.7,329.7 126.9,329.7 127.2,329.7 127.4,329.7 127.7,329.7 127.9,329.7 128.2,329.7 128.4,329.7 128.7,329.7 129.0,329.8 129.2,329.8 129.5,329.8 129.7,329.8 130.0,329.8 130.2,329.8 130.5,329.9 130.8,329.9 131.0,329.9 131.3,329.9 131.5,330.0 131.8,330.0 132.0,330.0 132.3,330.0 132.5,330.1 132.8,330.1 133.1,330.1 133.3,330.2 133.6,330.2 133.8,330.2 134.1,330.3 134.3,330.3 134.6,330.3 134.9,330.4 135.1,330.4 135.4,330.5 135.6,330.5 135.9,330.5 136.1,330.6 136.4,330.6 136.6,330.7 136.9,330.7 137.2,330.8 137.4,330.8 137.7,330.9 137.9,330.9 138.2,331.0 138.4,331.0 138.7,331.1 139.0,331.1 139.2,331.2 139.5,331.2 139.7,331.3 140.0,331.3 140.2,331.4 140.5,331.4 140.8,331.5 141.0,331.5 141.3,331.6 141.5,331.6 141.8,331.7 142.0,331.7 142.3,331.8 142.5,331.9 142.8,331.9 143.1,332.0 143.3,332.1 143.6,332.2 143.8,332.2 144.1,332.3 144.3,332.4 144.6,332.5 144.9,332.6 145.1,332.7 145.4,332.8 145.6,333.0 145.9,333.1 146.1,333.2 146.4,333.3 146.6,333.5 146.9,333.6 147.2,333.7 147.4,333.9 147.7,334.0 147.9,334.2 148.2,334.3 148.4,334.5 148.7,334.6 149.0,334.8 149.2,335.0 149.5,335.1 149.7,335.3 150.0,335.5 150.2,335.7 150.5,335.8 150.8,336.0 151.0,336.2 151.3,336.4 151.5,336.6 151.8,336.8 152.0,337.0 152.3,337.2 152.5,337.4 152.8,337.6 153.1,337.8 153.3,338.1 153.6,338.3 153.8,338.5 154.1,338.7 154.3,339.0 154.6,339.2 154.9,339.4 155.1,339.6 155.4,339.9 155.6,340.1 155.9,340.4 156.1,340.7 156.4,340.9 156.6,341.2 156.9,341.5 157.2,341.8 157.4,342.1 157.7,342.4 157.9,342.8 158.2,343.1 158.4,343.5 158.7,343.8 159.0,344.2 159.2,344.6 159.5,345.1 159.7,345.5 160.0,345.9 160.2,346.4 160.5,346.9 160.8,347.4 161.0,347.9 161.3,348.4 161.5,349.0 161.8,349.6 162.0,350.1 162.3,350.8 162.5,351.4 162.8,352.0 163.1,352.7 163.3,353.5 163.6,354.5 163.8,355.7 164.1,357.0 164.3,358.4 164.6,359.9 164.9,361.3 165.1,362.7 165.4,363.9 165.6,365.1 165.9,366.1 166.1,367.1 166.4,368.0 166.6,368.9 166.9,369.7 167.2,370.5 167.4,371.3 167.7,372.1 167.9,372.9 168.2,373.7 168.4,374.5 168.7,375.4 169.0,376.3 169.2,377.3 169.5,378.3 169.7,379.4 170.0,380.6 170.2,381.8 170.5,383.2 170.8,384.6 171.0,386.2 171.3,387.8 171.5,389.6 171.8,391.4 172.0,393.4 172.3,395.5 172.5,397.8 172.8,400.6 173.1,404.3 173.3,408.6 173.6,413.2 173.8,417.8 174.1,422.2 174.3,426.2 174.6,429.3 174.9,431.4 175.1,432.1 175.4,430.6 175.6,426.4 175.9,420.4 176.1,413.2 176.4,405.6 176.6,398.3 176.9,392.0 177.2,387.4 177.4,384.1 177.7,380.9 177.9,378.0 178.2,375.2 178.4,372.6 178.7,370.2 179.0,368.1 179.2,366.3 179.5,364.7 179.7,363.4 180.0,362.2 180.2,361.2 180.5,360.1 180.8,359.1 181.0,358.2 181.3,357.3 181.5,356.4 181.8,355.6 182.0,354.8 182.3,354.1 182.5,353.3 182.8,352.7 183.1,352.0 183.3,351.4 183.6,350.8 183.8,350.3 184.1,349.7 184.3,349.2 184.6,348.7 184.9,348.3 185.1,347.8 185.4,347.4 185.6,347.0 185.9,346.6 186.1,346.2 186.4,345.8 186.6,345.4" fill="none" stroke="#e61414" stroke-width="1.9" stroke-dasharray="7.5 1.8" stroke-dashoffset="75.85" stroke-linejoin="round"/>
<polyline points="186.6,345.4 186.9,345.1 187.2,344.7 187.4,344.4 187.7,344.0 187.9,343.7 188.2,343.3 188.4,343.0 188.7,342.7 189.0,342.4 189.2,342.1 189.5,341.8 189.7,341.5 190.0,341.3 190.2,341.0 190.5,340.7 190.8,340.5 191.0,340.3 191.3,340.0 191.5,339.8 191.8,339.6 192.0,339.4 192.3,339.2 192.5,339.0 192.8,338.8 193.1,338.6 193.3,338.5 193.6,338.3 193.8,338.2 194.1,338.1 194.3,337.9 194.6,337.8 194.9,337.7 195.1,337.6 195.4,337.5 195.6,337.4 195.9,337.2 196.1,337.1 196.4,337.0 196.6,336.9 196.9,336.8 197.2,336.7 197.4,336.6 197.7,336.5 197.9,336.4 198.2,336.3 198.4,336.3 198.7,336.2 199.0,336.1 199.2,336.0 199.5,336.0 199.7,335.9 200.0,335.9 200.2,335.8 200.5,335.8 200.8,335.8 201.0,335.7 201.3,335.7 201.5,335.7 201.8,335.7 202.0,335.7 202.3,335.7 202.5,335.7 202.8,335.7 203.1,335.8 203.3,335.8 203.6,335.8 203.8,335.9 204.1,335.9 204.3,336.0 204.6,336.0 204.9,336.1 205.1,336.1 205.4,336.2 205.6,336.3 205.9,336.3 206.1,336.4 206.4,336.5 206.6,336.5 206.9,336.6 207.2,336.7 207.4,336.8 207.7,336.9 207.9,337.0 208.2,337.0 208.4,337.1 208.7,337.2 209.0,337.3 209.2,337.4 209.5,337.5 209.7,337.6 210.0,337.7 210.2,337.8 210.5,337.9 210.7,338.0 211.0,338.1 211.3,338.2 211.5,338.4 211.8,338.5 212.0,338.6 212.3,338.8 212.5,338.9 212.8,339.1 213.1,339.3 213.3,339.4 213.6,339.6 213.8,339.8 214.1,340.0 214.3,340.2 214.6,340.4 214.9,340.6 215.1,340.8 215.4,341.0 215.6,341.2 215.9,341.5 216.1,341.7 216.4,341.9 216.6,342.2 216.9,342.4 217.2,342.7 217.4,342.9 217.7,343.2 217.9,343.5 218.2,343.8 218.4,344.0 218.7,344.3 219.0,344.6 219.2,344.9 219.5,345.2 219.7,345.5 220.0,345.9 220.2,346.2 220.5,346.5 220.7,346.9 221.0,347.3 221.3,347.7 221.5,348.1 221.8,348.6 222.0,349.0 222.3,349.5 222.5,350.1 222.8,350.6 223.1,351.2 223.3,351.8 223.6,352.4 223.8,353.0 224.1,353.7 224.3,354.3 224.6,355.0 224.9,355.7 225.1,356.5 225.4,357.2 225.6,358.0 225.9,358.8 226.1,359.6 226.4,360.4 226.6,361.3 226.9,362.1 227.2,363.0 227.4,363.9 227.7,364.8 227.9,365.8 228.2,366.7 228.4,367.7 228.7,368.8 229.0,369.8 229.2,371.0 229.5,372.2 229.7,373.4 230.0,374.8 230.2,376.2 230.5,377.8 230.7,379.4 231.0,381.2 231.3,383.1 231.5,385.1 231.8,387.2 232.0,389.5 232.3,392.2 232.5,395.6 232.8,399.6 233.1,404.2 233.3,409.4 233.6,414.9 233.8,423.6 234.1,435.0 234.3,445.0 234.6,449.3 234.9,446.5 235.1,439.5 235.4,430.5 235.6,421.6 235.9,414.9 236.1,410.3 236.4,405.8 236.6,401.6 236.9,397.6 237.2,393.9 237.4,390.5 237.7,387.5 237.9,384.8 238.2,382.5 238.4,380.6 238.7,379.0 239.0,377.6 239.2,376.3 239.5,375.2 239.7,374.1 240.0,373.1 240.2,372.2 240.5,371.3 240.7,370.4 241.0,369.5 241.3,368.5 241.5,367.5 241.8,366.5 242.0,365.5 242.3,364.5 242.5,363.4 242.8,362.4 243.1,361.4 243.3,360.3 243.6,359.3 243.8,358.3 244.1,357.4 244.3,356.4 244.6,355.5 244.9,354.7 245.1,353.8 245.4,353.0 245.6,352.3" fill="none" stroke="#e61414" stroke-width="1.9" stroke-dasharray="7.5 1.8" stroke-dashoffset="320.10" stroke-linejoin="round"/>
<polyline points="245.6,352.3 245.9,351.6 246.1,351.0 246.4,350.5 246.6,350.0 246.9,349.5 247.2,349.1 247.4,348.6 247.7,348.2 247.9,347.8 248.2,347.4 248.4,347.0 248.7,346.7 249.0,346.3 249.2,345.9 249.5,345.6 249.7,345.3 250.0,344.9 250.2,344.6 250.5,344.3 250.7,344.0 251.0,343.7 251.3,343.4 251.5,343.1 251.8,342.8 252.0,342.6 252.3,342.3 252.5,342.0 252.8,341.8 253.1,341.6 253.3,341.3 253.6,341.1 253.8,340.9 254.1,340.6 254.3,340.4 254.6,340.2 254.9,340.0 255.1,339.8 255.4,339.6 255.6,339.4 255.9,339.2 256.1,339.0 256.4,338.8 256.6,338.6 256.9,338.5 257.2,338.3 257.4,338.1 257.7,337.9 257.9,337.7 258.2,337.6 258.4,337.4 258.7,337.2 259.0,337.1 259.2,336.9 259.5,336.7 259.7,336.6 260.0,336.4 260.2,336.2 260.5,336.1 260.7,335.9 261.0,335.8 261.3,335.6 261.5,335.5 261.8,335.3 262.0,335.2 262.3,335.0 262.5,334.9 262.8,334.8 263.1,334.6 263.3,334.5 263.6,334.4 263.8,334.2 264.1,334.1 264.3,334.0 264.6,333.9 264.8,333.7 265.1,333.6 265.4,333.5 265.6,333.4 265.9,333.3 266.1,333.2 266.4,333.1 266.6,332.9 266.9,332.8 267.2,332.7 267.4,332.6 267.7,332.6 267.9,332.5 268.2,332.4 268.4,332.3 268.7,332.2 269.0,332.1 269.2,332.0 269.5,332.0 269.7,331.9 270.0,331.8 270.2,331.7 270.5,331.7 270.7,331.6 271.0,331.5 271.3,331.5 271.5,331.4 271.8,331.3 272.0,331.3 272.3,331.2 272.5,331.1 272.8,331.1 273.1,331.0 273.3,330.9 273.6,330.9 273.8,330.8 274.1,330.7 274.3,330.7 274.6,330.6 274.8,330.6 275.1,330.5 275.4,330.4 275.6,330.4 275.9,330.3 276.1,330.3 276.4,330.2 276.6,330.1 276.9,330.1 277.2,330.0 277.4,330.0 277.7,329.9 277.9,329.9 278.2,329.8 278.4,329.8 278.7,329.7 279.0,329.7 279.2,329.6 279.5,329.6 279.7,329.5 280.0,329.5 280.2,329.5 280.5,329.4 280.7,329.4 281.0,329.3 281.3,329.3 281.5,329.3 281.8,329.2 282.0,329.2 282.3,329.2 282.5,329.2 282.8,329.1 283.1,329.1 283.3,329.1 283.6,329.1 283.8,329.1 284.1,329.0 284.3,329.0 284.6,329.0 284.8,329.0 285.1,329.0 285.4,329.0 285.6,329.0 285.9,329.0 286.1,329.0 286.4,329.0 286.6,329.0 286.9,329.0 287.2,329.0 287.4,329.0 287.7,329.1 287.9,329.1 288.2,329.1 288.4,329.1 288.7,329.1 289.0,329.2 289.2,329.2 289.5,329.2 289.7,329.3 290.0,329.3 290.2,329.3 290.5,329.4 290.7,329.4 291.0,329.4 291.3,329.5 291.5,329.5 291.8,329.6 292.0,329.6 292.3,329.7 292.5,329.7 292.8,329.7 293.1,329.8 293.3,329.8 293.6,329.9 293.8,329.9 294.1,329.9 294.3,330.0 294.6,330.0 294.8,330.1 295.1,330.1 295.4,330.2 295.6,330.2 295.9,330.2 296.1,330.3 296.4,330.3 296.6,330.3 296.9,330.4" fill="none" stroke="#e61414" stroke-width="1.9" stroke-dasharray="7.5 1.8" stroke-dashoffset="566.73" stroke-linejoin="round"/>
<polyline points="40.5,348.6 40.8,348.5 41.0,348.4 41.3,348.3 41.5,348.2 41.8,348.1 42.0,348.0 42.3,347.9 42.6,347.8 42.8,347.7 43.1,347.6 43.3,347.5 43.6,347.4 43.8,347.2 44.1,347.1 44.3,347.0 44.6,346.9 44.9,346.8 45.1,346.7 45.4,346.6 45.6,346.4 45.9,346.3 46.1,346.2 46.4,346.1 46.7,346.0 46.9,345.9 47.2,345.7 47.4,345.6 47.7,345.5 47.9,345.4 48.2,345.3 48.4,345.2 48.7,345.1 49.0,345.0 49.2,344.9 49.5,344.8 49.7,344.7 50.0,344.6 50.2,344.6 50.5,344.5 50.8,344.4 51.0,344.3 51.3,344.3 51.5,344.2 51.8,344.1 52.0,344.1 52.3,344.0 52.6,344.0 52.8,343.9 53.1,343.9 53.3,343.9 53.6,343.8 53.8,343.8 54.1,343.8 54.3,343.8 54.6,343.8 54.9,343.8 55.1,343.8 55.4,343.8 55.6,343.8 55.9,343.9 56.1,343.9 56.4,343.9 56.7,344.0 56.9,344.0 57.2,344.1 57.4,344.1 57.7,344.2 57.9,344.2 58.2,344.3 58.4,344.4 58.7,344.4 59.0,344.5 59.2,344.6 59.5,344.7 59.7,344.7 60.0,344.8 60.2,344.9 60.5,345.0 60.8,345.1 61.0,345.2 61.3,345.2 61.5,345.3 61.8,345.5 62.0,345.6 62.3,345.7 62.6,345.9 62.8,346.1 63.1,346.2 63.3,346.4 63.6,346.6 63.8,346.8 64.1,347.0 64.3,347.2 64.6,347.4 64.9,347.6 65.1,347.8 65.4,348.0 65.6,348.2 65.9,348.4 66.1,348.5 66.4,348.7 66.7,348.9 66.9,349.0 67.2,349.2 67.4,349.3 67.7,349.4 67.9,349.5 68.2,349.6 68.4,349.7 68.7,349.8 69.0,349.8 69.2,349.9 69.5,350.0 69.7,350.1 70.0,350.2 70.2,350.3 70.5,350.4 70.8,350.5 71.0,350.7 71.3,350.8 71.5,351.0 71.8,351.2 72.0,351.5 72.3,351.7 72.5,352.0 72.8,352.4 73.1,352.7 73.3,353.0 73.6,353.4 73.8,353.8 74.1,354.2 74.3,354.6 74.6,355.0 74.9,355.4 75.1,355.8 75.4,356.2 75.6,356.6 75.9,357.1 76.1,357.5 76.4,357.9 76.7,358.3 76.9,358.8 77.2,359.3 77.4,359.9 77.7,360.5 77.9,361.1 78.2,361.8 78.4,362.4 78.7,363.1 79.0,363.7 79.2,364.3 79.5,364.9 79.7,365.4 80.0,365.9 80.2,366.4 80.5,366.8 80.8,367.1 81.0,367.3 81.3,367.4 81.5,367.5 81.8,367.4 82.0,367.3 82.3,367.0 82.5,366.6 82.8,366.2 83.1,365.7 83.3,365.2 83.6,364.6 83.8,364.0 84.1,363.4 84.3,362.8 84.6,362.2 84.9,361.6 85.1,361.1 85.4,360.6 85.6,360.2 85.9,359.7 86.1,359.2 86.4,358.8 86.7,358.3 86.9,357.9 87.2,357.4 87.4,356.9 87.7,356.5 87.9,356.0 88.2,355.6 88.4,355.1 88.7,354.7 89.0,354.2 89.2,353.8 89.5,353.4 89.7,353.0 90.0,352.6 90.2,352.1 90.5,351.7 90.8,351.3 91.0,350.9 91.3,350.4 91.5,350.0 91.8,349.6" fill="none" stroke="#1040d4" stroke-width="1.9" stroke-dasharray="7.5 1.8" stroke-dashoffset="0.00" stroke-linejoin="round"/>
<polyline points="91.8,349.6 92.0,349.1 92.3,348.7 92.5,348.3 92.8,347.9 93.1,347.4 93.3,347.0 93.6,346.6 93.8,346.2 94.1,345.8 94.3,345.5 94.6,345.1 94.9,344.7 95.1,344.4 95.4,344.0 95.6,343.7 95.9,343.4 96.1,343.0 96.4,342.8 96.7,342.5 96.9,342.2 97.2,341.9 97.4,341.7 97.7,341.5 97.9,341.3 98.2,341.0 98.4,340.8 98.7,340.6 99.0,340.4 99.2,340.2 99.5,340.0 99.7,339.8 100.0,339.6 100.2,339.4 100.5,339.2 100.8,339.0 101.0,338.8 101.3,338.6 101.5,338.4 101.8,338.3 102.0,338.1 102.3,337.9 102.5,337.7 102.8,337.6 103.1,337.4 103.3,337.2 103.6,337.1 103.8,336.9 104.1,336.8 104.3,336.6 104.6,336.5 104.9,336.3 105.1,336.2 105.4,336.0 105.6,335.9 105.9,335.8 106.1,335.6 106.4,335.5 106.7,335.4 106.9,335.2 107.2,335.1 107.4,335.0 107.7,334.9 107.9,334.8 108.2,334.7 108.4,334.6 108.7,334.5 109.0,334.4 109.2,334.3 109.5,334.2 109.7,334.1 110.0,334.0 110.2,333.9 110.5,333.8 110.8,333.7 111.0,333.6 111.3,333.6 111.5,333.5 111.8,333.4 112.0,333.3 112.3,333.2 112.5,333.1 112.8,333.1 113.1,333.0 113.3,332.9 113.6,332.8 113.8,332.7 114.1,332.6 114.3,332.6 114.6,332.5 114.9,332.4 115.1,332.3 115.4,332.3 115.6,332.2 115.9,332.1 116.1,332.0 116.4,332.0 116.7,331.9 116.9,331.8 117.2,331.7 117.4,331.7 117.7,331.6 117.9,331.5 118.2,331.5 118.4,331.4 118.7,331.4 119.0,331.3 119.2,331.2 119.5,331.2 119.7,331.1 120.0,331.1 120.2,331.0 120.5,331.0 120.8,330.9 121.0,330.9 121.3,330.8 121.5,330.8 121.8,330.7 122.0,330.7 122.3,330.7 122.5,330.6 122.8,330.6 123.1,330.6 123.3,330.5 123.6,330.5 123.8,330.5 124.1,330.5 124.3,330.4 124.6,330.4 124.9,330.4 125.1,330.4 125.4,330.4 125.6,330.4 125.9,330.4 126.1,330.4 126.4,330.4 126.7,330.4 126.9,330.4 127.2,330.4 127.4,330.4 127.7,330.4 127.9,330.4 128.2,330.4 128.4,330.4 128.7,330.4 129.0,330.4 129.2,330.5 129.5,330.5 129.7,330.5 130.0,330.5 130.2,330.5 130.5,330.6 130.8,330.6 131.0,330.6 131.3,330.6 131.5,330.7 131.8,330.7 132.0,330.7 132.3,330.7 132.5,330.8 132.8,330.8 133.1,330.8 133.3,330.9 133.6,330.9 133.8,330.9 134.1,331.0 134.3,331.0 134.6,331.0 134.9,331.1 135.1,331.1 135.4,331.2 135.6,331.2 135.9,331.2 136.1,331.3 136.4,331.3 136.6,331.4 136.9,331.4 137.2,331.5 137.4,331.5 137.7,331.5 137.9,331.6 138.2,331.6 138.4,331.7 138.7,331.7 139.0,331.8 139.2,331.8 139.5,331.9 139.7,331.9 140.0,332.0 140.2,332.0 140.5,332.1 140.8,332.2 141.0,332.2 141.3,332.3 141.5,332.3 141.8,332.4 142.0,332.4 142.3,332.5 142.5,332.6 142.8,332.6 143.1,332.7 143.3,332.8 143.6,332.8 143.8,332.9 144.1,333.0 144.3,333.1 144.6,333.2 144.9,333.3 145.1,333.4 145.4,333.5 145.6,333.6 145.9,333.8 146.1,333.9 146.4,334.0 146.6,334.1 146.9,334.3 147.2,334.4 147.4,334.6 147.7,334.7 147.9,334.9 148.2,335.0 148.4,335.2 148.7,335.3 149.0,335.5 149.2,335.6 149.5,335.8 149.7,336.0 150.0,336.2 150.2,336.3 150.5,336.5 150.8,336.7 151.0,336.9 151.3,337.1 151.5,337.3 151.8,337.5 152.0,337.7 152.3,337.9 152.5,338.1 152.8,338.3 153.1,338.5 153.3,338.8 153.6,339.0 153.8,339.2 154.1,339.4 154.3,339.6 154.6,339.9 154.9,340.1 155.1,340.3 155.4,340.6 155.6,340.8 155.9,341.1 156.1,341.3 156.4,341.6 156.6,341.9 156.9,342.2 157.2,342.5 157.4,342.8 157.7,343.1 157.9,343.5 158.2,343.8 158.4,344.2 158.7,344.5 159.0,344.9 159.2,345.3 159.5,345.7 159.7,346.2 160.0,346.6 160.2,347.1 160.5,347.6 160.8,348.1 161.0,348.6 161.3,349.1 161.5,349.7 161.8,350.2 162.0,350.8 162.3,351.4 162.5,352.1 162.8,352.7 163.1,353.4 163.3,354.2 163.6,355.2 163.8,356.4 164.1,357.7 164.3,359.1 164.6,360.6 164.9,362.0 165.1,363.4 165.4,364.6 165.6,365.8 165.9,366.8 166.1,367.8 166.4,368.6 166.6,369.5 166.9,370.3 167.2,371.1 167.4,371.8 167.7,372.6 167.9,373.4 168.2,374.2 168.4,375.0 168.7,375.9 169.0,376.8 169.2,377.8 169.5,378.8 169.7,380.0 170.0,381.3 170.2,382.6 170.5,384.1 170.8,385.7 171.0,387.5 171.3,389.4 171.5,391.5 171.8,393.7 172.0,396.2 172.3,398.9 172.5,401.9 172.8,405.3 173.1,409.3 173.3,413.9 173.6,419.3 173.8,425.3 174.1,432.1 174.3,439.7 174.6,453.0 174.9,469.2 175.1,477.2 175.4,472.8 175.6,461.8 175.9,447.6 176.1,433.4 176.4,422.5 176.6,414.7 176.9,407.3 177.2,400.6 177.4,394.5 177.7,389.2 177.9,384.7 178.2,380.7 178.4,377.0 178.7,373.5 179.0,370.4 179.2,367.8 179.5,365.6 179.7,364.1 180.0,362.8 180.2,361.7 180.5,360.6 180.8,359.5 181.0,358.5 181.3,357.6 181.5,356.7 181.8,355.9 182.0,355.1 182.3,354.4 182.5,353.7 182.8,353.0 183.1,352.4 183.3,351.8 183.6,351.3 183.8,350.7 184.1,350.2 184.3,349.8 184.6,349.3 184.9,348.9 185.1,348.4 185.4,348.0 185.6,347.6 185.9,347.3 186.1,346.9 186.4,346.5 186.6,346.1" fill="none" stroke="#1040d4" stroke-width="1.9" stroke-dasharray="7.5 1.8" stroke-dashoffset="75.85" stroke-linejoin="round"/>
<polyline points="186.6,346.1 186.9,345.8 187.2,345.4 187.4,345.0 187.7,344.7 187.9,344.4 188.2,344.0 188.4,343.7 188.7,343.4 189.0,343.1 189.2,342.8 189.5,342.5 189.7,342.2 190.0,342.0 190.2,341.7 190.5,341.4 190.8,341.2 191.0,340.9 191.3,340.7 191.5,340.5 191.8,340.3 192.0,340.1 192.3,339.9 192.5,339.7 192.8,339.5 193.1,339.3 193.3,339.2 193.6,339.0 193.8,338.9 194.1,338.7 194.3,338.6 194.6,338.5 194.9,338.4 195.1,338.3 195.4,338.2 195.6,338.0 195.9,337.9 196.1,337.8 196.4,337.7 196.6,337.6 196.9,337.5 197.2,337.4 197.4,337.3 197.7,337.2 197.9,337.1 198.2,337.0 198.4,336.9 198.7,336.9 199.0,336.8 199.2,336.7 199.5,336.7 199.7,336.6 200.0,336.6 200.2,336.5 200.5,336.5 200.8,336.4 201.0,336.4 201.3,336.4 201.5,336.4 201.8,336.4 202.0,336.4 202.3,336.4 202.5,336.4 202.8,336.4 203.1,336.5 203.3,336.5 203.6,336.5 203.8,336.6 204.1,336.6 204.3,336.6 204.6,336.7 204.9,336.8 205.1,336.8 205.4,336.9 205.6,336.9 205.9,337.0 206.1,337.1 206.4,337.2 206.6,337.2 206.9,337.3 207.2,337.4 207.4,337.5 207.7,337.6 207.9,337.6 208.2,337.7 208.4,337.8 208.7,337.9 209.0,338.0 209.2,338.1 209.5,338.2 209.7,338.3 210.0,338.4 210.2,338.5 210.5,338.6 210.7,338.7 211.0,338.8 211.3,338.9 211.5,339.1 211.8,339.2 212.0,339.3 212.3,339.5 212.5,339.6 212.8,339.8 213.1,340.0 213.3,340.1 213.6,340.3 213.8,340.5 214.1,340.7 214.3,340.9 214.6,341.1 214.9,341.3 215.1,341.5 215.4,341.7 215.6,341.9 215.9,342.1 216.1,342.4 216.4,342.6 216.6,342.9 216.9,343.1 217.2,343.4 217.4,343.6 217.7,343.9 217.9,344.2 218.2,344.4 218.4,344.7 218.7,345.0 219.0,345.3 219.2,345.6 219.5,345.9 219.7,346.2 220.0,346.5 220.2,346.9 220.5,347.2 220.7,347.6 221.0,348.0 221.3,348.4 221.5,348.8 221.8,349.3 222.0,349.7 222.3,350.2 222.5,350.8 222.8,351.3 223.1,351.9 223.3,352.5 223.6,353.1 223.8,353.7 224.1,354.4 224.3,355.0 224.6,355.7 224.9,356.4 225.1,357.2 225.4,357.9 225.6,358.7 225.9,359.5 226.1,360.3 226.4,361.1 226.6,362.0 226.9,362.8 227.2,363.7 227.4,364.6 227.7,365.5 227.9,366.5 228.2,367.4 228.4,368.4 228.7,369.4 229.0,370.5 229.2,371.7 229.5,372.9 229.7,374.1 230.0,375.5 230.2,376.9 230.5,378.5 230.7,380.1 231.0,381.9 231.3,383.7 231.5,385.8 231.8,387.9 232.0,390.2 232.3,392.8 232.5,396.1 232.8,400.0 233.1,404.5 233.3,409.7 233.6,415.6 233.8,426.1 234.1,440.8 234.3,454.0 234.6,459.6 234.9,455.9 235.1,446.7 235.4,434.9 235.6,423.5 235.9,415.6 236.1,410.6 236.4,405.9 236.6,401.6 236.9,397.7 237.2,394.0 237.4,390.8 237.7,387.9 237.9,385.3 238.2,383.1 238.4,381.3 238.7,379.7 239.0,378.3 239.2,377.0 239.5,375.8 239.7,374.8 240.0,373.8 240.2,372.9 240.5,372.0 240.7,371.1 241.0,370.2 241.3,369.2 241.5,368.2 241.8,367.2 242.0,366.2 242.3,365.1 242.5,364.1 242.8,363.1 243.1,362.0 243.3,361.0 243.6,360.0 243.8,359.0 244.1,358.1 244.3,357.1 244.6,356.2 244.9,355.3 245.1,354.5 245.4,353.7 245.6,353.0" fill="none" stroke="#1040d4" stroke-width="1.9" stroke-dasharray="7.5 1.8" stroke-dashoffset="320.10" stroke-linejoin="round"/>
<polyline points="245.6,353.0 245.9,352.3 246.1,351.7 246.4,351.1 246.6,350.7 246.9,350.2 247.2,349.8 247.4,349.3 247.7,348.9 247.9,348.5 248.2,348.1 248.4,347.7 248.7,347.4 249.0,347.0 249.2,346.6 249.5,346.3 249.7,345.9 250.0,345.6 250.2,345.3 250.5,345.0 250.7,344.7 251.0,344.4 251.3,344.1 251.5,343.8 251.8,343.5 252.0,343.3 252.3,343.0 252.5,342.7 252.8,342.5 253.1,342.2 253.3,342.0 253.6,341.8 253.8,341.5 254.1,341.3 254.3,341.1 254.6,340.9 254.9,340.7 255.1,340.5 255.4,340.3 255.6,340.1 255.9,339.9 256.1,339.7 256.4,339.5 256.6,339.3 256.9,339.1 257.2,339.0 257.4,338.8 257.7,338.6 257.9,338.4 258.2,338.3 258.4,338.1 258.7,337.9 259.0,337.7 259.2,337.6 259.5,337.4 259.7,337.3 260.0,337.1 260.2,336.9 260.5,336.8 260.7,336.6 261.0,336.5 261.3,336.3 261.5,336.2 261.8,336.0 262.0,335.9 262.3,335.7 262.5,335.6 262.8,335.5 263.1,335.3 263.3,335.2 263.6,335.0 263.8,334.9 264.1,334.8 264.3,334.7 264.6,334.5 264.8,334.4 265.1,334.3 265.4,334.2 265.6,334.1 265.9,334.0 266.1,333.8 266.4,333.7 266.6,333.6 266.9,333.5 267.2,333.4 267.4,333.3 267.7,333.2 267.9,333.1 268.2,333.1 268.4,333.0 268.7,332.9 269.0,332.8 269.2,332.7 269.5,332.6 269.7,332.6 270.0,332.5 270.2,332.4 270.5,332.4 270.7,332.3 271.0,332.2 271.3,332.2 271.5,332.1 271.8,332.0 272.0,332.0 272.3,331.9 272.5,331.8 272.8,331.8 273.1,331.7 273.3,331.6 273.6,331.6 273.8,331.5 274.1,331.4 274.3,331.4 274.6,331.3 274.8,331.2 275.1,331.2 275.4,331.1 275.6,331.1 275.9,331.0 276.1,330.9 276.4,330.9 276.6,330.8 276.9,330.8 277.2,330.7 277.4,330.7 277.7,330.6 277.9,330.6 278.2,330.5 278.4,330.5 278.7,330.4 279.0,330.4 279.2,330.3 279.5,330.3 279.7,330.2 280.0,330.2 280.2,330.2 280.5,330.1 280.7,330.1 281.0,330.0 281.3,330.0 281.5,330.0 281.8,329.9 282.0,329.9 282.3,329.9 282.5,329.9 282.8,329.8 283.1,329.8 283.3,329.8 283.6,329.8 283.8,329.7 284.1,329.7 284.3,329.7 284.6,329.7 284.8,329.7 285.1,329.7 285.4,329.7 285.6,329.7 285.9,329.7 286.1,329.7 286.4,329.7 286.6,329.7 286.9,329.7 287.2,329.7 287.4,329.7 287.7,329.7 287.9,329.7 288.2,329.7 288.4,329.7 288.7,329.7 289.0,329.7 289.2,329.7 289.5,329.7 289.7,329.7 290.0,329.8 290.2,329.8 290.5,329.8 290.7,329.8 291.0,329.8 291.3,329.8 291.5,329.8 291.8,329.8 292.0,329.8 292.3,329.8 292.5,329.9 292.8,329.9 293.1,329.9 293.3,329.9 293.6,329.9 293.8,329.9 294.1,329.9 294.3,329.9 294.6,329.9 294.8,329.9 295.1,330.0 295.4,330.0 295.6,330.0 295.9,330.0 296.1,330.0 296.4,330.0 296.6,330.0 296.9,330.0" fill="none" stroke="#1040d4" stroke-width="1.9" stroke-dasharray="7.5 1.8" stroke-dashoffset="566.73" stroke-linejoin="round"/>
<polyline points="40.5,346.2 40.8,346.1 41.0,346.1 41.3,346.0 41.5,345.9 41.8,345.9 42.0,345.8 42.3,345.7 42.6,345.7 42.8,345.6 43.1,345.5 43.3,345.5 43.6,345.4 43.8,345.3 44.1,345.2 44.3,345.2 44.6,345.1 44.9,345.0 45.1,344.9 45.4,344.9 45.6,344.8 45.9,344.7 46.1,344.6 46.4,344.6 46.7,344.5 46.9,344.4 47.2,344.4 47.4,344.3 47.7,344.2 47.9,344.1 48.2,344.1 48.4,344.0 48.7,343.9 49.0,343.9 49.2,343.8 49.5,343.8 49.7,343.7 50.0,343.6 50.2,343.6 50.5,343.5 50.8,343.5 51.0,343.4 51.3,343.4 51.5,343.4 51.8,343.3 52.0,343.3 52.3,343.2 52.6,343.2 52.8,343.2 53.1,343.2 53.3,343.1 53.6,343.1 53.8,343.1 54.1,343.1 54.3,343.1 54.6,343.1 54.9,343.1 55.1,343.1 55.4,343.1 55.6,343.1 55.9,343.2 56.1,343.2 56.4,343.2 56.7,343.3 56.9,343.3 57.2,343.4 57.4,343.4 57.7,343.5 57.9,343.5 58.2,343.6 58.4,343.7 58.7,343.8 59.0,343.8 59.2,343.9 59.5,344.0 59.7,344.1 60.0,344.1 60.2,344.2 60.5,344.3 60.8,344.4 61.0,344.5 61.3,344.6 61.5,344.7 61.8,344.8 62.0,344.9 62.3,345.0 62.6,345.2 62.8,345.3 63.1,345.5 63.3,345.6 63.6,345.8 63.8,346.0 64.1,346.2 64.3,346.3 64.6,346.5 64.9,346.7 65.1,346.9 65.4,347.1 65.6,347.3 65.9,347.5 66.1,347.7 66.4,347.9 66.7,348.1 66.9,348.2 67.2,348.4 67.4,348.6 67.7,348.8 67.9,348.9 68.2,349.1 68.4,349.2 68.7,349.4 69.0,349.5 69.2,349.7 69.5,349.9 69.7,350.0 70.0,350.2 70.2,350.4 70.5,350.6 70.8,350.8 71.0,351.0 71.3,351.2 71.5,351.5 71.8,351.7 72.0,352.0 72.3,352.3 72.5,352.6 72.8,352.9 73.1,353.2 73.3,353.6 73.6,353.9 73.8,354.3 74.1,354.6 74.3,355.0 74.6,355.4 74.9,355.8 75.1,356.2 75.4,356.6 75.6,357.0 75.9,357.4 76.1,357.8 76.4,358.2 76.7,358.7 76.9,359.2 77.2,359.8 77.4,360.4 77.7,361.1 77.9,361.8 78.2,362.5 78.4,363.2 78.7,363.9 79.0,364.6 79.2,365.3 79.5,365.9 79.7,366.5 80.0,367.1 80.2,367.6 80.5,368.0 80.8,368.4 81.0,368.7 81.3,368.8 81.5,368.9 81.8,368.8 82.0,368.6 82.3,368.3 82.5,367.9 82.8,367.4 83.1,366.8 83.3,366.2 83.6,365.5 83.8,364.8 84.1,364.1 84.3,363.4 84.6,362.7 84.9,362.1 85.1,361.5 85.4,361.0 85.6,360.5 85.9,360.0 86.1,359.5 86.4,359.1 86.7,358.6 86.9,358.1 87.2,357.7 87.4,357.2 87.7,356.8 87.9,356.3 88.2,355.9 88.4,355.4 88.7,355.0 89.0,354.6 89.2,354.2 89.5,353.7 89.7,353.3 90.0,352.9 90.2,352.5 90.5,352.1 90.8,351.6 91.0,351.2 91.3,350.8 91.5,350.3 91.8,349.9" fill="none" stroke="#1a9a3a" stroke-width="1.9" stroke-dasharray="7.5 1.8" stroke-dashoffset="0.00" stroke-linejoin="round"/>
<polyline points="91.8,349.9 92.0,349.5 92.3,349.0 92.5,348.6 92.8,348.2 93.1,347.8 93.3,347.4 93.6,347.0 93.8,346.6 94.1,346.2 94.3,345.8 94.6,345.4 94.9,345.1 95.1,344.7 95.4,344.4 95.6,344.0 95.9,343.7 96.1,343.4 96.4,343.1 96.7,342.8 96.9,342.5 97.2,342.3 97.4,342.1 97.7,341.8 97.9,341.6 98.2,341.4 98.4,341.2 98.7,341.0 99.0,340.7 99.2,340.5 99.5,340.3 99.7,340.1 100.0,339.9 100.2,339.7 100.5,339.5 100.8,339.3 101.0,339.2 101.3,339.0 101.5,338.8 101.8,338.6 102.0,338.4 102.3,338.3 102.5,338.1 102.8,337.9 103.1,337.7 103.3,337.6 103.6,337.4 103.8,337.3 104.1,337.1 104.3,337.0 104.6,336.8 104.9,336.7 105.1,336.5 105.4,336.4 105.6,336.2 105.9,336.1 106.1,336.0 106.4,335.8 106.7,335.7 106.9,335.6 107.2,335.5 107.4,335.4 107.7,335.2 107.9,335.1 108.2,335.0 108.4,334.9 108.7,334.8 109.0,334.7 109.2,334.6 109.5,334.5 109.7,334.4 110.0,334.3 110.2,334.2 110.5,334.1 110.8,334.1 111.0,334.0 111.3,333.9 111.5,333.8 111.8,333.7 112.0,333.6 112.3,333.6 112.5,333.5 112.8,333.4 113.1,333.3 113.3,333.2 113.6,333.2 113.8,333.1 114.1,333.0 114.3,332.9 114.6,332.8 114.9,332.8 115.1,332.7 115.4,332.6 115.6,332.5 115.9,332.4 116.1,332.4 116.4,332.3 116.7,332.2 116.9,332.2 117.2,332.1 117.4,332.0 117.7,332.0 117.9,331.9 118.2,331.8 118.4,331.8 118.7,331.7 119.0,331.6 119.2,331.6 119.5,331.5 119.7,331.5 120.0,331.4 120.2,331.4 120.5,331.3 120.8,331.3 121.0,331.2 121.3,331.2 121.5,331.1 121.8,331.1 122.0,331.0 122.3,331.0 122.5,331.0 122.8,330.9 123.1,330.9 123.3,330.9 123.6,330.8 123.8,330.8 124.1,330.8 124.3,330.8 124.6,330.8 124.9,330.7 125.1,330.7 125.4,330.7 125.6,330.7 125.9,330.7 126.1,330.7 126.4,330.7 126.7,330.7 126.9,330.7 127.2,330.7 127.4,330.7 127.7,330.7 127.9,330.7 128.2,330.8 128.4,330.8 128.7,330.8 129.0,330.8 129.2,330.8 129.5,330.8 129.7,330.8 130.0,330.9 130.2,330.9 130.5,330.9 130.8,330.9 131.0,330.9 131.3,331.0 131.5,331.0 131.8,331.0 132.0,331.1 132.3,331.1 132.5,331.1 132.8,331.1 133.1,331.2 133.3,331.2 133.6,331.2 133.8,331.3 134.1,331.3 134.3,331.3 134.6,331.4 134.9,331.4 135.1,331.5 135.4,331.5 135.6,331.5 135.9,331.6 136.1,331.6 136.4,331.7 136.6,331.7 136.9,331.8 137.2,331.8 137.4,331.8 137.7,331.9 137.9,331.9 138.2,332.0 138.4,332.0 138.7,332.1 139.0,332.1 139.2,332.2 139.5,332.2 139.7,332.3 140.0,332.3 140.2,332.4 140.5,332.4 140.8,332.5 141.0,332.6 141.3,332.6 141.5,332.7 141.8,332.7 142.0,332.8 142.3,332.8 142.5,332.9 142.8,333.0 143.1,333.0 143.3,333.1 143.6,333.2 143.8,333.3 144.1,333.4 144.3,333.5 144.6,333.6 144.9,333.7 145.1,333.8 145.4,333.9 145.6,334.0 145.9,334.1 146.1,334.2 146.4,334.4 146.6,334.5 146.9,334.6 147.2,334.8 147.4,334.9 147.7,335.0 147.9,335.2 148.2,335.3 148.4,335.5 148.7,335.7 149.0,335.8 149.2,336.0 149.5,336.2 149.7,336.3 150.0,336.5 150.2,336.7 150.5,336.9 150.8,337.1 151.0,337.3 151.3,337.4 151.5,337.6 151.8,337.8 152.0,338.0 152.3,338.2 152.5,338.5 152.8,338.7 153.1,338.9 153.3,339.1 153.6,339.3 153.8,339.5 154.1,339.8 154.3,340.0 154.6,340.2 154.9,340.4 155.1,340.7 155.4,340.9 155.6,341.2 155.9,341.4 156.1,341.7 156.4,341.9 156.6,342.2 156.9,342.4 157.2,342.7 157.4,343.0 157.7,343.3 157.9,343.6 158.2,343.9 158.4,344.3 158.7,344.6 159.0,345.0 159.2,345.4 159.5,345.8 159.7,346.2 160.0,346.6 160.2,347.1 160.5,347.6 160.8,348.1 161.0,348.6 161.3,349.2 161.5,349.7 161.8,350.3 162.0,351.0 162.3,351.6 162.5,352.3 162.8,353.0 163.1,353.7 163.3,354.8 163.6,356.5 163.8,358.5 164.1,360.6 164.3,362.7 164.6,364.5 164.9,366.0 165.1,366.8 165.4,367.2 165.6,367.5 165.9,367.8 166.1,368.0 166.4,368.2 166.6,368.3 166.9,368.5 167.2,368.7 167.4,368.9 167.7,369.2 167.9,369.6 168.2,370.1 168.4,370.7 168.7,371.5 169.0,372.4 169.2,373.5 169.5,374.7 169.7,375.9 170.0,377.3 170.2,378.7 170.5,380.3 170.8,381.8 171.0,383.5 171.3,385.1 171.5,386.8 171.8,388.5 172.0,390.3 172.3,392.4 172.5,394.7 172.8,397.1 173.1,399.7 173.3,402.3 173.6,405.0 173.8,407.6 174.1,410.1 174.3,412.5 174.6,415.2 174.9,418.2 175.1,421.2 175.4,423.8 175.6,425.6 175.9,426.3 176.1,424.7 176.4,420.4 176.6,414.3 176.9,407.2 177.2,399.9 177.4,393.4 177.7,388.5 177.9,384.6 178.2,380.8 178.4,377.2 178.7,373.8 179.0,370.8 179.2,368.1 179.5,366.0 179.7,364.4 180.0,363.2 180.2,362.0 180.5,360.9 180.8,359.9 181.0,358.9 181.3,358.0 181.5,357.1 181.8,356.3 182.0,355.5 182.3,354.8 182.5,354.1 182.8,353.4 183.1,352.8 183.3,352.2 183.6,351.6 183.8,351.1 184.1,350.6 184.3,350.1 184.6,349.7 184.9,349.2 185.1,348.8 185.4,348.4 185.6,348.0 185.9,347.6 186.1,347.2 186.4,346.8 186.6,346.5" fill="none" stroke="#1a9a3a" stroke-width="1.9" stroke-dasharray="7.5 1.8" stroke-dashoffset="75.85" stroke-linejoin="round"/>
<polyline points="186.6,346.5 186.9,346.1 187.2,345.7 187.4,345.4 187.7,345.0 187.9,344.7 188.2,344.4 188.4,344.1 188.7,343.7 189.0,343.4 189.2,343.1 189.5,342.9 189.7,342.6 190.0,342.3 190.2,342.0 190.5,341.8 190.8,341.5 191.0,341.3 191.3,341.0 191.5,340.8 191.8,340.6 192.0,340.4 192.3,340.2 192.5,340.0 192.8,339.8 193.1,339.7 193.3,339.5 193.6,339.4 193.8,339.2 194.1,339.1 194.3,339.0 194.6,338.8 194.9,338.7 195.1,338.6 195.4,338.5 195.6,338.4 195.9,338.3 196.1,338.2 196.4,338.1 196.6,337.9 196.9,337.8 197.2,337.7 197.4,337.6 197.7,337.6 197.9,337.5 198.2,337.4 198.4,337.3 198.7,337.2 199.0,337.1 199.2,337.1 199.5,337.0 199.7,337.0 200.0,336.9 200.2,336.9 200.5,336.8 200.8,336.8 201.0,336.8 201.3,336.7 201.5,336.7 201.8,336.7 202.0,336.7 202.3,336.7 202.5,336.8 202.8,336.8 203.1,336.8 203.3,336.8 203.6,336.9 203.8,336.9 204.1,336.9 204.3,337.0 204.6,337.0 204.9,337.1 205.1,337.2 205.4,337.2 205.6,337.3 205.9,337.4 206.1,337.4 206.4,337.5 206.6,337.6 206.9,337.7 207.2,337.7 207.4,337.8 207.7,337.9 207.9,338.0 208.2,338.1 208.4,338.2 208.7,338.3 209.0,338.3 209.2,338.4 209.5,338.5 209.7,338.6 210.0,338.7 210.2,338.8 210.5,338.9 210.7,339.0 211.0,339.2 211.3,339.3 211.5,339.4 211.8,339.5 212.0,339.7 212.3,339.8 212.5,340.0 212.8,340.1 213.1,340.3 213.3,340.5 213.6,340.6 213.8,340.8 214.1,341.0 214.3,341.2 214.6,341.4 214.9,341.6 215.1,341.8 215.4,342.0 215.6,342.3 215.9,342.5 216.1,342.7 216.4,343.0 216.6,343.2 216.9,343.5 217.2,343.7 217.4,344.0 217.7,344.2 217.9,344.5 218.2,344.8 218.4,345.1 218.7,345.4 219.0,345.7 219.2,346.0 219.5,346.3 219.7,346.6 220.0,346.9 220.2,347.2 220.5,347.6 220.7,347.9 221.0,348.3 221.3,348.7 221.5,349.1 221.8,349.6 222.0,350.1 222.3,350.6 222.5,351.1 222.8,351.6 223.1,352.2 223.3,352.8 223.6,353.4 223.8,354.0 224.1,354.7 224.3,355.4 224.6,356.1 224.9,356.8 225.1,357.5 225.4,358.3 225.6,359.0 225.9,359.8 226.1,360.6 226.4,361.5 226.6,362.3 226.9,363.2 227.2,364.1 227.4,365.0 227.7,365.9 227.9,366.8 228.2,367.8 228.4,368.8 228.7,369.8 229.0,370.9 229.2,372.0 229.5,373.2 229.7,374.5 230.0,375.8 230.2,377.3 230.5,378.8 230.7,380.4 231.0,382.2 231.3,384.1 231.5,386.1 231.8,388.2 232.0,390.5 232.3,393.2 232.5,396.6 232.8,400.6 233.1,405.2 233.3,410.3 233.6,416.0 233.8,424.9 234.1,436.8 234.3,447.3 234.6,451.7 234.9,448.8 235.1,441.5 235.4,432.0 235.6,422.8 235.9,416.0 236.1,411.3 236.4,406.8 236.6,402.5 236.9,398.5 237.2,394.8 237.4,391.5 237.7,388.4 237.9,385.8 238.2,383.5 238.4,381.6 238.7,380.0 239.0,378.6 239.2,377.3 239.5,376.2 239.7,375.1 240.0,374.2 240.2,373.2 240.5,372.3 240.7,371.4 241.0,370.5 241.3,369.6 241.5,368.6 241.8,367.5 242.0,366.5 242.3,365.5 242.5,364.5 242.8,363.4 243.1,362.4 243.3,361.4 243.6,360.4 243.8,359.4 244.1,358.4 244.3,357.5 244.6,356.6 244.9,355.7 245.1,354.9 245.4,354.1 245.6,353.3" fill="none" stroke="#1a9a3a" stroke-width="1.9" stroke-dasharray="7.5 1.8" stroke-dashoffset="320.10" stroke-linejoin="round"/>
<polyline points="245.6,353.3 245.9,352.7 246.1,352.0 246.4,351.5 246.6,351.0 246.9,350.5 247.2,350.1 247.4,349.7 247.7,349.3 247.9,348.9 248.2,348.5 248.4,348.1 248.7,347.7 249.0,347.3 249.2,347.0 249.5,346.6 249.7,346.3 250.0,346.0 250.2,345.6 250.5,345.3 250.7,345.0 251.0,344.7 251.3,344.4 251.5,344.1 251.8,343.9 252.0,343.6 252.3,343.3 252.5,343.1 252.8,342.8 253.1,342.6 253.3,342.3 253.6,342.1 253.8,341.9 254.1,341.7 254.3,341.4 254.6,341.2 254.9,341.0 255.1,340.8 255.4,340.6 255.6,340.4 255.9,340.2 256.1,340.0 256.4,339.9 256.6,339.7 256.9,339.5 257.2,339.3 257.4,339.1 257.7,339.0 257.9,338.8 258.2,338.6 258.4,338.4 258.7,338.3 259.0,338.1 259.2,337.9 259.5,337.8 259.7,337.6 260.0,337.4 260.2,337.3 260.5,337.1 260.7,337.0 261.0,336.8 261.3,336.7 261.5,336.5 261.8,336.4 262.0,336.2 262.3,336.1 262.5,335.9 262.8,335.8 263.1,335.7 263.3,335.5 263.6,335.4 263.8,335.3 264.1,335.1 264.3,335.0 264.6,334.9 264.8,334.8 265.1,334.6 265.4,334.5 265.6,334.4 265.9,334.3 266.1,334.2 266.4,334.1 266.6,334.0 266.9,333.9 267.2,333.8 267.4,333.7 267.7,333.6 267.9,333.5 268.2,333.4 268.4,333.3 268.7,333.2 269.0,333.1 269.2,333.1 269.5,333.0 269.7,332.9 270.0,332.8 270.2,332.8 270.5,332.7 270.7,332.6 271.0,332.6 271.3,332.5 271.5,332.4 271.8,332.4 272.0,332.3 272.3,332.2 272.5,332.2 272.8,332.1 273.1,332.0 273.3,332.0 273.6,331.9 273.8,331.8 274.1,331.8 274.3,331.7 274.6,331.7 274.8,331.6 275.1,331.5 275.4,331.5 275.6,331.4 275.9,331.3 276.1,331.3 276.4,331.2 276.6,331.2 276.9,331.1 277.2,331.1 277.4,331.0 277.7,331.0 277.9,330.9 278.2,330.9 278.4,330.8 278.7,330.8 279.0,330.7 279.2,330.7 279.5,330.6 279.7,330.6 280.0,330.5 280.2,330.5 280.5,330.5 280.7,330.4 281.0,330.4 281.3,330.3 281.5,330.3 281.8,330.3 282.0,330.3 282.3,330.2 282.5,330.2 282.8,330.2 283.1,330.1 283.3,330.1 283.6,330.1 283.8,330.1 284.1,330.1 284.3,330.1 284.6,330.0 284.8,330.0 285.1,330.0 285.4,330.0 285.6,330.0 285.9,330.0 286.1,330.0 286.4,330.0 286.6,330.0 286.9,330.0 287.2,330.0 287.4,330.0 287.7,330.0 287.9,330.0 288.2,330.0 288.4,330.0 288.7,330.0 289.0,330.0 289.2,330.0 289.5,330.0 289.7,330.0 290.0,330.0 290.2,330.0 290.5,330.0 290.7,330.0 291.0,330.0 291.3,330.0 291.5,330.0 291.8,330.0 292.0,330.0 292.3,330.0 292.5,330.0 292.8,330.0 293.1,330.0 293.3,330.0 293.6,330.0 293.8,330.0 294.1,330.0 294.3,330.0 294.6,330.0 294.8,330.0 295.1,330.0 295.4,330.0 295.6,330.0 295.9,330.0 296.1,330.0 296.4,330.0 296.6,330.0 296.9,330.0" fill="none" stroke="#1a9a3a" stroke-width="1.9" stroke-dasharray="7.5 1.8" stroke-dashoffset="566.73" stroke-linejoin="round"/>
<rect x="253.4" y="448.9" width="38.3" height="49.4" fill="#fff" stroke="#8a8a8a" stroke-width="1"/>
<path d="M256.0,455.7 H260.7 M265.0,455.7 H269.8" stroke="#111111" stroke-width="2.0" fill="none"/>
<text x="274.8" y="459.7" font-size="9.6" font-family='"Liberation Serif", serif' text-anchor="start" font-weight="normal" >d=4</text>
<path d="M256.0,467.8 H260.7 M265.0,467.8 H269.8" stroke="#e61414" stroke-width="2.0" fill="none"/>
<text x="274.8" y="471.8" font-size="9.6" font-family='"Liberation Serif", serif' text-anchor="start" font-weight="normal" >d=5</text>
<path d="M256.0,479.6 H260.7 M265.0,479.6 H269.8" stroke="#1040d4" stroke-width="2.0" fill="none"/>
<text x="274.8" y="483.6" font-size="9.6" font-family='"Liberation Serif", serif' text-anchor="start" font-weight="normal" >d=6</text>
<path d="M256.0,491.6 H260.7 M265.0,491.6 H269.8" stroke="#1a9a3a" stroke-width="2.0" fill="none"/>
<text x="274.8" y="495.6" font-size="9.6" font-family='"Liberation Serif", serif' text-anchor="start" font-weight="normal" >d=7</text>
<text x="0" y="0" font-size="11.28" font-family='"Liberation Serif", serif' text-anchor="middle" transform="translate(14.0,409.5) rotate(-90)">Relectance (dB)</text>
<text x="128.4" y="539.3" font-size="11.6" font-family='"Liberation Serif", serif' text-anchor="start" font-weight="normal" >Frequency (THz)</text>
<text x="36.4" y="564.6" font-size="10" font-family='"Liberation Sans", sans-serif' text-anchor="start" font-weight="bold" >(c)</text>
<text x="62.0" y="564.6" font-size="11.28" font-family='"Liberation Serif", serif' text-anchor="start" font-weight="normal" >Reflectance response for variations in the value of z</text>
<path d="M398.50,299.50 H657.40 V507.60" fill="none" stroke="#333" stroke-width="1.4"/>
<path d="M398.50,299.50 V507.60 H657.40" fill="none" stroke="#1a1a1a" stroke-width="1.2"/>
<line x1="394.5" y1="329.2" x2="398.5" y2="329.2" stroke="#1a1a1a" stroke-width="1.1"/>
<text x="391.9" y="332.3" font-size="8.8" font-family='"Liberation Sans", sans-serif' text-anchor="end" font-weight="normal" >0</text>
<line x1="394.5" y1="388.7" x2="398.5" y2="388.7" stroke="#1a1a1a" stroke-width="1.1"/>
<text x="391.9" y="391.8" font-size="8.8" font-family='"Liberation Sans", sans-serif' text-anchor="end" font-weight="normal" >−20</text>
<line x1="394.5" y1="448.1" x2="398.5" y2="448.1" stroke="#1a1a1a" stroke-width="1.1"/>
<text x="391.9" y="451.2" font-size="8.8" font-family='"Liberation Sans", sans-serif' text-anchor="end" font-weight="normal" >−40</text>
<line x1="394.5" y1="507.6" x2="398.5" y2="507.6" stroke="#1a1a1a" stroke-width="1.1"/>
<text x="391.9" y="510.7" font-size="8.8" font-family='"Liberation Sans", sans-serif' text-anchor="end" font-weight="normal" >−60</text>
<line x1="396.1" y1="299.5" x2="398.5" y2="299.5" stroke="#1a1a1a" stroke-width="1.1"/>
<line x1="396.1" y1="359.0" x2="398.5" y2="359.0" stroke="#1a1a1a" stroke-width="1.1"/>
<line x1="396.1" y1="418.4" x2="398.5" y2="418.4" stroke="#1a1a1a" stroke-width="1.1"/>
<line x1="396.1" y1="477.9" x2="398.5" y2="477.9" stroke="#1a1a1a" stroke-width="1.1"/>
<line x1="398.5" y1="507.6" x2="398.5" y2="511.4" stroke="#1a1a1a" stroke-width="1.1"/>
<text x="398.5" y="521.3" font-size="8.8" font-family='"Liberation Sans", sans-serif' text-anchor="middle" font-weight="normal" >4.4</text>
<line x1="450.3" y1="507.6" x2="450.3" y2="511.4" stroke="#1a1a1a" stroke-width="1.1"/>
<text x="450.3" y="521.3" font-size="8.8" font-family='"Liberation Sans", sans-serif' text-anchor="middle" font-weight="normal" >4.6</text>
<line x1="502.1" y1="507.6" x2="502.1" y2="511.4" stroke="#1a1a1a" stroke-width="1.1"/>
<text x="502.1" y="521.3" font-size="8.8" font-family='"Liberation Sans", sans-serif' text-anchor="middle" font-weight="normal" >4.8</text>
<line x1="553.8" y1="507.6" x2="553.8" y2="511.4" stroke="#1a1a1a" stroke-width="1.1"/>
<text x="553.8" y="521.3" font-size="8.8" font-family='"Liberation Sans", sans-serif' text-anchor="middle" font-weight="normal" >5.0</text>
<line x1="605.6" y1="507.6" x2="605.6" y2="511.4" stroke="#1a1a1a" stroke-width="1.1"/>
<text x="605.6" y="521.3" font-size="8.8" font-family='"Liberation Sans", sans-serif' text-anchor="middle" font-weight="normal" >5.2</text>
<line x1="657.4" y1="507.6" x2="657.4" y2="511.4" stroke="#1a1a1a" stroke-width="1.1"/>
<text x="657.4" y="521.3" font-size="8.8" font-family='"Liberation Sans", sans-serif' text-anchor="middle" font-weight="normal" >5.4</text>
<line x1="424.4" y1="507.6" x2="424.4" y2="510.0" stroke="#1a1a1a" stroke-width="1.1"/>
<line x1="476.2" y1="507.6" x2="476.2" y2="510.0" stroke="#1a1a1a" stroke-width="1.1"/>
<line x1="528.0" y1="507.6" x2="528.0" y2="510.0" stroke="#1a1a1a" stroke-width="1.1"/>
<line x1="579.7" y1="507.6" x2="579.7" y2="510.0" stroke="#1a1a1a" stroke-width="1.1"/>
<line x1="631.5" y1="507.6" x2="631.5" y2="510.0" stroke="#1a1a1a" stroke-width="1.1"/>
<path d="M398.5,351.8C401.5,350.9 404.5,349.1 407.6,349.1C410.6,349.1 413.6,349.6 416.6,350.0C420.9,350.7 425.3,352.8 429.6,355.7C431.7,357.1 433.9,360.5 436.0,363.4C437.9,365.9 439.7,372.0 441.5,372.0C442.5,372.0 443.5,365.6 444.6,363.4C446.7,359.0 448.7,355.4 450.8,353.0C455.1,348.0 459.4,343.8 463.7,342.3C469.0,340.5 474.3,339.0 479.5,339.0C485.7,339.0 491.8,339.5 497.9,340.2C502.3,340.8 506.7,343.1 511.1,346.5C513.5,348.3 516.0,354.4 518.4,358.4C520.3,361.5 522.2,365.9 524.1,367.9C525.6,369.5 527.2,369.2 528.7,371.4C529.8,372.9 530.8,380.4 531.8,388.7C532.6,394.9 533.4,419.9 534.2,419.9C534.9,419.9 535.5,395.6 536.2,388.7C537.3,378.4 538.3,371.0 539.3,366.4C541.1,358.7 542.8,352.0 544.5,350.3C548.9,346.1 553.3,343.8 557.7,343.8C562.1,343.8 566.5,345.0 570.9,346.5C574.4,347.6 577.8,352.4 581.3,355.7C584.0,358.2 586.6,359.3 589.3,363.7C590.6,365.8 591.9,369.4 593.2,376.8C593.9,380.7 594.6,389.5 595.3,403.6C595.9,415.8 596.5,484.7 597.1,484.7C597.8,484.7 598.5,414.5 599.1,403.6C600.4,383.0 601.7,372.3 603.0,367.9C604.8,362.0 606.5,360.0 608.2,357.5C610.6,353.9 613.0,350.8 615.5,349.1C620.7,345.6 626.0,343.2 631.3,342.3C640.0,340.8 648.7,340.5 657.4,339.6" fill="none" stroke="#111111" stroke-width="2.0" stroke-dasharray="7 3 1.6 3" stroke-linejoin="round"/>
<path d="M398.5,352.7C401.5,351.5 404.5,349.1 407.6,349.1C410.6,349.1 413.6,349.6 416.6,350.0C420.9,350.7 425.3,352.8 429.6,355.7C431.7,357.1 433.9,360.7 436.0,363.4C437.9,365.7 439.7,370.8 441.5,370.8C442.5,370.8 443.5,365.5 444.6,363.4C446.7,359.3 448.7,355.4 450.8,353.0C455.1,348.0 459.4,343.8 463.7,342.3C469.0,340.5 474.3,339.0 479.5,339.0C485.7,339.0 491.8,339.5 497.9,340.2C502.3,340.8 506.7,343.1 511.1,346.5C513.5,348.3 516.0,354.1 518.4,358.4C520.3,361.7 522.2,365.6 524.1,369.4C525.8,372.8 527.5,374.1 529.2,379.8C530.4,383.4 531.5,390.9 532.6,403.6C533.4,412.3 534.2,459.7 534.9,459.7C535.6,459.7 536.3,406.8 537.0,394.6C537.8,380.9 538.6,370.5 539.3,366.4C541.1,357.2 542.8,352.0 544.5,350.3C548.9,346.1 553.3,343.8 557.7,343.8C562.1,343.8 566.5,345.0 570.9,346.5C574.4,347.6 577.8,351.3 581.3,355.7C583.4,358.3 585.4,362.1 587.5,367.9C589.1,372.2 590.6,377.0 592.2,388.7C593.2,396.5 594.2,446.7 595.3,446.7C596.1,446.7 597.0,397.3 597.9,388.7C599.1,375.7 600.4,368.6 601.7,364.9C604.6,356.7 607.4,352.8 610.3,350.3C614.8,346.4 619.3,344.3 623.7,342.9C629.8,341.0 635.8,339.4 641.9,339.0C647.0,338.7 652.2,338.6 657.4,338.4" fill="none" stroke="#e61414" stroke-width="2.0" stroke-dasharray="7 3 1.6 3" stroke-linejoin="round"/>
<path d="M398.5,353.6C401.5,352.1 404.5,349.1 407.6,349.1C410.6,349.1 413.6,349.6 416.6,350.0C420.9,350.7 425.3,352.8 429.6,355.7C431.7,357.1 433.9,359.5 436.0,363.4C436.6,364.3 437.1,367.6 437.6,367.6C439.9,367.6 442.3,365.5 444.6,363.4C446.7,361.6 448.7,355.4 450.8,353.0C455.1,348.0 459.4,343.8 463.7,342.3C469.0,340.5 474.3,339.0 479.5,339.0C485.7,339.0 491.8,339.5 497.9,340.2C502.3,340.8 506.7,343.1 511.1,346.5C513.5,348.3 516.0,352.2 518.4,358.4C519.3,360.8 520.3,366.3 521.2,370.8C522.0,374.6 522.8,381.7 523.5,383.3C525.0,386.4 526.5,385.9 528.0,388.7C529.2,391.1 530.5,396.6 531.8,403.6C532.6,407.7 533.4,422.6 534.2,422.6C534.9,422.6 535.5,395.8 536.2,388.7C537.3,378.1 538.3,371.0 539.3,366.4C541.1,358.7 542.8,352.0 544.5,350.3C548.9,346.1 553.3,343.8 557.7,343.8C562.1,343.8 566.5,345.0 570.9,346.5C574.4,347.6 577.8,350.3 581.3,355.7C583.1,358.5 584.9,369.3 586.7,376.8C587.8,381.5 589.0,383.9 590.1,391.7C590.7,395.8 591.3,414.8 591.9,414.8C592.7,414.8 593.5,394.8 594.2,388.7C595.6,377.9 597.0,368.9 598.4,364.9C600.5,358.7 602.7,355.5 604.8,353.0C610.1,347.0 615.4,342.7 620.6,341.1C627.6,339.0 634.6,337.3 641.6,337.3C646.9,337.3 652.1,337.3 657.4,337.3" fill="none" stroke="#1040d4" stroke-width="2.0" stroke-dasharray="7 3 1.6 3" stroke-linejoin="round"/>
<rect x="423.6" y="462.4" width="36.7" height="38.3" fill="#fff" stroke="#8a8a8a" stroke-width="1"/>
<path d="M424.4,469.9 H436.7 M442.0,469.9 H443.6" stroke="#111111" stroke-width="2.0" fill="none"/>
<text x="446.0" y="473.6" font-size="9.2" font-family='"Liberation Serif", serif' text-anchor="start" font-weight="normal" >f=5</text>
<path d="M424.4,482.0 H436.7 M442.0,482.0 H443.6" stroke="#e61414" stroke-width="2.0" fill="none"/>
<text x="446.0" y="485.7" font-size="9.2" font-family='"Liberation Serif", serif' text-anchor="start" font-weight="normal" >f=6</text>
<path d="M424.4,493.8 H436.7 M442.0,493.8 H443.6" stroke="#1040d4" stroke-width="2.0" fill="none"/>
<text x="446.0" y="497.5" font-size="9.2" font-family='"Liberation Serif", serif' text-anchor="start" font-weight="normal" >f=7</text>
<text x="0" y="0" font-size="10.75" font-family='"Liberation Sans", sans-serif' text-anchor="middle" transform="translate(372.2,403.5) rotate(-90)">Relectance S11(dB)</text>
<text x="489.2" y="537.8" font-size="10.8" font-family='"Liberation Sans", sans-serif' text-anchor="start" font-weight="normal" >Frequency(THz)</text>
<text x="430.6" y="565.7" font-size="10.5" font-family='"Liberation Sans", sans-serif' text-anchor="start" font-weight="bold" >(d)</text>
<text x="459.3" y="565.7" font-size="11.28" font-family='"Liberation Serif", serif' text-anchor="start" font-weight="normal" ><tspan font-weight="bold">O</tspan>utput when the value of f changes</text>
<path d="M37.30,582.30 H294.40 V789.10" fill="none" stroke="#444" stroke-width="1.4"/>
<path d="M37.30,582.30 V789.10 H294.40" fill="none" stroke="#1a1a1a" stroke-width="1.2"/>
<line x1="33.3" y1="599.5" x2="37.3" y2="599.5" stroke="#1a1a1a" stroke-width="1.1"/>
<text x="30.1" y="602.2" font-size="9.0" font-family='"Liberation Sans", sans-serif' text-anchor="end" font-weight="normal" >0</text>
<line x1="33.3" y1="634.0" x2="37.3" y2="634.0" stroke="#1a1a1a" stroke-width="1.1"/>
<text x="30.1" y="636.7" font-size="9.0" font-family='"Liberation Sans", sans-serif' text-anchor="end" font-weight="normal" >−10</text>
<line x1="33.3" y1="668.5" x2="37.3" y2="668.5" stroke="#1a1a1a" stroke-width="1.1"/>
<text x="30.1" y="671.2" font-size="9.0" font-family='"Liberation Sans", sans-serif' text-anchor="end" font-weight="normal" >−20</text>
<line x1="33.3" y1="702.9" x2="37.3" y2="702.9" stroke="#1a1a1a" stroke-width="1.1"/>
<text x="30.1" y="705.6" font-size="9.0" font-family='"Liberation Sans", sans-serif' text-anchor="end" font-weight="normal" >−30</text>
<line x1="33.3" y1="737.4" x2="37.3" y2="737.4" stroke="#1a1a1a" stroke-width="1.1"/>
<text x="30.1" y="740.1" font-size="9.0" font-family='"Liberation Sans", sans-serif' text-anchor="end" font-weight="normal" >−40</text>
<line x1="33.3" y1="771.9" x2="37.3" y2="771.9" stroke="#1a1a1a" stroke-width="1.1"/>
<text x="30.1" y="774.6" font-size="9.0" font-family='"Liberation Sans", sans-serif' text-anchor="end" font-weight="normal" >−50</text>
<line x1="34.9" y1="616.8" x2="37.3" y2="616.8" stroke="#1a1a1a" stroke-width="1.1"/>
<line x1="34.9" y1="651.2" x2="37.3" y2="651.2" stroke="#1a1a1a" stroke-width="1.1"/>
<line x1="34.9" y1="685.7" x2="37.3" y2="685.7" stroke="#1a1a1a" stroke-width="1.1"/>
<line x1="34.9" y1="720.2" x2="37.3" y2="720.2" stroke="#1a1a1a" stroke-width="1.1"/>
<line x1="34.9" y1="754.6" x2="37.3" y2="754.6" stroke="#1a1a1a" stroke-width="1.1"/>
<line x1="37.3" y1="789.1" x2="37.3" y2="792.9" stroke="#1a1a1a" stroke-width="1.1"/>
<text x="37.3" y="802.8" font-size="9.0" font-family='"Liberation Sans", sans-serif' text-anchor="middle" font-weight="normal" >4.4</text>
<line x1="88.7" y1="789.1" x2="88.7" y2="792.9" stroke="#1a1a1a" stroke-width="1.1"/>
<text x="88.7" y="802.8" font-size="9.0" font-family='"Liberation Sans", sans-serif' text-anchor="middle" font-weight="normal" >4.6</text>
<line x1="140.1" y1="789.1" x2="140.1" y2="792.9" stroke="#1a1a1a" stroke-width="1.1"/>
<text x="140.1" y="802.8" font-size="9.0" font-family='"Liberation Sans", sans-serif' text-anchor="middle" font-weight="normal" >4.8</text>
<line x1="191.6" y1="789.1" x2="191.6" y2="792.9" stroke="#1a1a1a" stroke-width="1.1"/>
<text x="191.6" y="802.8" font-size="9.0" font-family='"Liberation Sans", sans-serif' text-anchor="middle" font-weight="normal" >5.0</text>
<line x1="243.0" y1="789.1" x2="243.0" y2="792.9" stroke="#1a1a1a" stroke-width="1.1"/>
<text x="243.0" y="802.8" font-size="9.0" font-family='"Liberation Sans", sans-serif' text-anchor="middle" font-weight="normal" >5.2</text>
<line x1="294.4" y1="789.1" x2="294.4" y2="792.9" stroke="#1a1a1a" stroke-width="1.1"/>
<text x="294.4" y="802.8" font-size="9.0" font-family='"Liberation Sans", sans-serif' text-anchor="middle" font-weight="normal" >5.4</text>
<line x1="63.0" y1="789.1" x2="63.0" y2="791.5" stroke="#1a1a1a" stroke-width="1.1"/>
<line x1="114.4" y1="789.1" x2="114.4" y2="791.5" stroke="#1a1a1a" stroke-width="1.1"/>
<line x1="165.8" y1="789.1" x2="165.8" y2="791.5" stroke="#1a1a1a" stroke-width="1.1"/>
<line x1="217.3" y1="789.1" x2="217.3" y2="791.5" stroke="#1a1a1a" stroke-width="1.1"/>
<line x1="268.7" y1="789.1" x2="268.7" y2="791.5" stroke="#1a1a1a" stroke-width="1.1"/>
<path d="M37.3,630.6C40.6,629.6 43.8,627.8 47.1,627.8C51.4,627.8 55.8,629.4 60.2,631.9C62.8,633.4 65.3,640.9 67.9,646.4C70.1,651.2 72.4,663.3 74.6,663.3C76.8,663.3 79.0,650.4 81.3,646.4C83.8,641.8 86.4,637.4 89.0,635.7C92.5,633.4 96.0,631.2 99.5,631.2C103.0,631.2 106.5,632.6 110.1,634.3C113.6,636.1 117.1,644.1 120.6,651.6C123.2,657.0 125.7,674.0 128.3,674.0C131.0,674.0 133.6,660.9 136.3,659.5C138.9,658.1 141.6,658.2 144.3,657.1C146.9,656.0 149.6,654.3 152.2,651.6C154.8,648.9 157.4,639.2 159.9,635.7C163.5,631.0 167.0,627.4 170.5,625.4C172.4,624.3 174.2,623.0 176.1,623.0C177.8,623.0 179.6,623.3 181.3,623.7C184.5,624.3 187.8,626.9 191.0,629.5C194.2,632.1 197.4,636.0 200.6,641.2C202.9,645.0 205.2,650.1 207.5,657.4C209.0,662.3 210.6,672.5 212.1,678.5C213.2,682.5 214.2,689.1 215.2,689.1C216.3,689.1 217.4,679.6 218.6,675.4C220.0,669.8 221.5,663.2 222.9,659.9C224.8,655.5 226.7,654.7 228.6,650.5C230.9,645.5 233.2,629.3 235.5,627.1C238.6,624.2 241.7,622.3 244.8,622.3C248.0,622.3 251.1,622.9 254.3,623.7C257.4,624.4 260.5,628.7 263.5,630.6C268.3,633.4 273.0,637.4 277.7,637.4C283.3,637.4 288.8,634.5 294.4,633.0" fill="none" stroke="#111111" stroke-width="2.0" stroke-dasharray="7 3 1.6 3" stroke-linejoin="round"/>
<path d="M37.3,629.2C40.7,628.3 44.2,626.4 47.6,626.4C51.9,626.4 56.2,628.2 60.4,630.6C63.0,632.0 65.6,637.3 68.2,640.9C70.3,643.9 72.4,650.2 74.6,650.2C76.3,650.2 78.0,645.4 79.7,642.6C81.9,639.0 84.2,632.9 86.4,630.6C90.8,625.9 95.1,622.8 99.5,621.2C103.9,619.7 108.3,618.1 112.6,618.1C117.0,618.1 121.4,619.3 125.7,621.2C128.4,622.4 131.1,627.6 133.7,633.3C135.5,637.2 137.3,645.1 139.1,651.6C140.7,657.2 142.2,669.5 143.7,669.5C145.7,669.5 147.7,657.8 149.7,657.1C152.2,656.2 154.8,656.5 157.4,655.7C160.0,654.9 162.7,646.4 165.3,641.2C167.9,636.3 170.5,627.0 173.0,625.4C176.0,623.6 178.9,622.3 181.8,622.3C185.6,622.3 189.5,623.9 193.4,625.7C197.3,627.6 201.2,633.5 205.2,641.2C207.5,645.8 209.8,653.2 212.1,664.7C213.4,671.1 214.7,682.7 216.0,696.0C216.7,703.2 217.4,723.6 218.0,723.6C218.8,723.6 219.6,697.5 220.4,689.1C221.5,677.1 222.6,666.7 223.7,661.6C225.3,654.0 227.0,650.9 228.6,646.4C230.9,640.1 233.2,632.7 235.5,629.5C239.5,624.1 243.4,620.1 247.4,618.8C253.5,616.8 259.7,615.4 265.9,615.4C269.8,615.4 273.7,618.5 277.7,618.8C283.3,619.3 288.8,619.3 294.4,619.5" fill="none" stroke="#e61414" stroke-width="2.0" stroke-dasharray="7 3 1.6 3" stroke-linejoin="round"/>
<path d="M37.3,627.8C40.7,626.5 44.2,624.0 47.6,624.0C51.9,624.0 56.2,626.3 60.4,628.8C63.0,630.3 65.6,634.3 68.2,637.4C70.7,640.6 73.3,647.8 75.9,647.8C77.6,647.8 79.3,643.8 81.0,640.9C82.7,638.0 84.4,631.1 86.1,628.8C90.6,622.9 95.1,618.6 99.5,617.5C103.9,616.3 108.3,615.4 112.6,615.4C118.8,615.4 125.0,617.7 131.1,621.2C133.8,622.8 136.5,627.8 139.1,633.3C140.7,636.7 142.4,641.8 144.0,647.8C145.4,652.8 146.7,667.4 148.1,667.4C149.9,667.4 151.7,655.8 153.5,654.3C156.6,651.9 159.7,652.4 162.8,650.2C165.3,648.4 167.9,641.7 170.5,637.4C173.2,632.9 176.0,625.6 178.7,623.7C181.3,621.9 183.8,620.2 186.4,620.2C191.1,620.2 195.8,622.1 200.6,624.7C204.4,626.8 208.3,635.2 212.1,643.7C214.4,648.7 216.8,652.2 219.1,664.7C219.8,668.4 220.4,678.1 221.1,689.1C221.6,697.4 222.2,726.0 222.7,726.0C223.4,726.0 224.2,694.5 225.0,685.7C226.3,671.1 227.6,661.2 228.8,654.7C230.3,647.3 231.8,642.9 233.2,638.8C235.5,632.4 237.8,626.2 240.2,623.7C244.9,618.6 249.6,615.5 254.3,614.4C259.7,613.0 265.1,611.9 270.5,611.9C278.5,611.9 286.4,613.5 294.4,614.4" fill="none" stroke="#1040d4" stroke-width="2.0" stroke-dasharray="7 3 1.6 3" stroke-linejoin="round"/>
<path d="M37.3,625.7C40.7,624.5 44.2,621.9 47.6,621.9C51.9,621.9 56.2,623.6 60.4,625.7C63.0,627.0 65.6,630.9 68.2,634.0C70.7,637.1 73.3,644.3 75.9,644.3C77.6,644.3 79.3,639.9 81.0,637.4C83.6,633.8 86.1,628.2 88.7,625.4C93.0,620.7 97.3,616.8 101.6,615.0C105.9,613.3 110.1,611.9 114.4,611.6C120.0,611.2 125.6,610.9 131.1,610.9C136.4,610.9 141.6,613.4 146.8,616.8C150.3,619.0 153.9,627.7 157.4,635.7C159.2,639.8 161.0,644.6 162.8,651.6C164.5,658.2 166.2,666.5 167.9,680.5C168.8,687.5 169.6,700.5 170.5,713.3C171.2,723.5 171.8,749.5 172.5,749.5C173.3,749.5 174.1,700.8 174.8,685.7C175.6,670.6 176.4,655.8 177.2,650.5C178.7,640.1 180.2,635.7 181.8,631.9C184.1,626.3 186.4,622.0 188.7,620.2C191.9,617.8 195.1,615.7 198.2,615.7C202.1,615.7 206.0,618.9 209.8,622.3C212.9,625.0 216.0,631.6 219.1,638.8C221.5,644.5 223.9,649.9 226.3,662.6C227.4,668.5 228.5,681.2 229.6,696.0C230.3,705.1 231.0,734.0 231.7,734.0C232.4,734.0 233.2,695.8 234.0,685.7C235.3,668.8 236.6,656.7 237.8,650.5C240.2,639.5 242.5,633.1 244.8,629.5C248.7,623.4 252.7,620.2 256.6,617.8C261.2,615.0 265.9,612.7 270.5,611.9C278.5,610.6 286.4,610.3 294.4,609.5" fill="none" stroke="#1a9a3a" stroke-width="2.0" stroke-dasharray="7 3 1.6 3" stroke-linejoin="round"/>
<path d="M37.3,625.0C40.7,623.8 44.2,621.2 47.6,621.2C51.9,621.2 56.2,622.6 60.4,624.3C63.0,625.4 65.6,629.5 68.2,632.3C71.2,635.5 74.2,642.6 77.2,642.6C78.9,642.6 80.6,636.8 82.3,634.0C84.4,630.5 86.6,625.9 88.7,623.7C93.0,619.1 97.3,615.7 101.6,614.0C105.9,612.3 110.1,611.2 114.4,610.6C118.7,609.9 123.0,609.2 127.3,609.2C131.6,609.2 135.9,610.2 140.1,611.3C145.0,612.5 149.9,615.3 154.8,620.2C157.5,622.9 160.1,632.2 162.8,637.4C165.3,642.5 167.9,642.7 170.5,651.6C171.3,654.5 172.2,665.9 173.0,675.4C173.6,682.0 174.2,699.1 174.8,699.1C175.4,699.1 176.0,682.5 176.6,675.4C177.5,665.2 178.4,652.8 179.2,647.8C180.8,638.8 182.3,633.9 183.8,630.6C186.4,625.0 189.0,621.3 191.6,619.5C194.6,617.4 197.6,615.4 200.6,615.4C204.4,615.4 208.3,618.6 212.1,621.9C215.1,624.5 218.1,630.4 221.1,637.4C223.4,642.9 225.8,648.8 228.1,661.6C229.2,667.7 230.3,680.2 231.4,696.0C232.1,705.8 232.8,739.5 233.5,739.5C234.2,739.5 235.0,696.3 235.8,685.7C237.2,666.8 238.5,654.2 239.9,647.8C242.2,636.9 244.5,630.4 246.8,627.1C250.7,621.6 254.5,619.1 258.4,616.8C262.7,614.2 267.0,611.6 271.3,610.9C279.0,609.7 286.7,609.5 294.4,608.8" fill="none" stroke="#9b3bd6" stroke-width="2.0" stroke-dasharray="7 3 1.6 3" stroke-linejoin="round"/>
<path d="M37.3,624.0C40.7,623.0 44.2,620.9 47.6,620.9C51.9,620.9 56.2,622.1 60.4,623.7C63.0,624.6 65.6,627.8 68.2,630.6C71.2,633.8 74.2,642.6 77.2,642.6C78.9,642.6 80.6,636.9 82.3,634.0C84.4,630.4 86.6,625.4 88.7,623.0C93.0,618.2 97.3,614.7 101.6,613.0C105.9,611.3 110.1,610.2 114.4,609.5C119.1,608.9 123.7,608.1 128.3,608.1C134.5,608.1 140.7,609.9 146.8,612.3C151.2,613.9 155.6,620.0 159.9,625.4C162.6,628.6 165.3,632.6 167.9,637.4C170.2,641.6 172.5,644.8 174.8,653.0C175.5,655.4 176.2,659.7 176.9,665.0C177.3,668.3 177.8,678.8 178.2,678.8C178.8,678.8 179.4,663.2 180.0,658.1C181.3,647.3 182.6,637.8 183.8,634.0C186.4,626.4 189.0,622.2 191.6,620.2C195.4,617.2 199.3,614.7 203.1,614.7C207.0,614.7 210.8,618.3 214.7,621.9C217.7,624.7 220.7,630.2 223.7,637.4C225.8,642.6 228.0,647.3 230.1,661.6C231.0,667.3 231.8,680.7 232.7,702.9C233.1,714.1 233.6,768.8 234.0,768.8C234.6,768.8 235.2,714.1 235.8,702.9C237.3,674.3 238.9,659.1 240.4,651.2C243.0,638.0 245.6,631.0 248.1,627.1C252.4,620.6 256.7,617.6 261.0,615.0C265.3,612.5 269.5,610.2 273.8,609.5C280.7,608.5 287.5,608.4 294.4,607.8" fill="none" stroke="#d6a019" stroke-width="2.0" stroke-dasharray="7 3 1.6 3" stroke-linejoin="round"/>
<rect x="239.9" y="722.9" width="49.6" height="60.5" fill="#fff" stroke="#8a8a8a" stroke-width="1"/>
<path d="M240.5,728.2 H247.9 M251.7,728.2 H252.7 M256.5,728.2 H259.7" stroke="#111111" stroke-width="2.0" fill="none"/>
<text x="261.0" y="731.1" font-size="8.0" font-family='"Liberation Sans", sans-serif' text-anchor="start" font-weight="normal" >t1=0.30</text>
<path d="M240.5,738.0 H247.9 M251.7,738.0 H252.7 M256.5,738.0 H259.7" stroke="#e61414" stroke-width="2.0" fill="none"/>
<text x="261.0" y="740.9" font-size="8.0" font-family='"Liberation Sans", sans-serif' text-anchor="start" font-weight="normal" >t1=0.35</text>
<path d="M240.5,747.8 H247.9 M251.7,747.8 H252.7 M256.5,747.8 H259.7" stroke="#1040d4" stroke-width="2.0" fill="none"/>
<text x="261.0" y="750.7" font-size="8.0" font-family='"Liberation Sans", sans-serif' text-anchor="start" font-weight="normal" >t1=0.40</text>
<path d="M240.5,758.1 H247.9 M251.7,758.1 H252.7 M256.5,758.1 H259.7" stroke="#1a9a3a" stroke-width="2.0" fill="none"/>
<text x="261.0" y="761.0" font-size="8.0" font-family='"Liberation Sans", sans-serif' text-anchor="start" font-weight="normal" >t1=0.47</text>
<path d="M240.5,767.9 H247.9 M251.7,767.9 H252.7 M256.5,767.9 H259.7" stroke="#9b3bd6" stroke-width="2.0" fill="none"/>
<text x="261.0" y="770.8" font-size="8.0" font-family='"Liberation Sans", sans-serif' text-anchor="start" font-weight="normal" >t1=0.50</text>
<path d="M240.5,777.7 H247.9 M251.7,777.7 H252.7 M256.5,777.7 H259.7" stroke="#d6a019" stroke-width="2.0" fill="none"/>
<text x="261.0" y="780.6" font-size="8.0" font-family='"Liberation Sans", sans-serif' text-anchor="start" font-weight="normal" >t1=0.55</text>
<text x="0" y="0" font-size="10.9" font-family='"Liberation Sans", sans-serif' text-anchor="middle" transform="translate(11.0,685.4) rotate(-90)">Reflectance(dB)</text>
<text x="125.7" y="819.3" font-size="10.75" font-family='"Liberation Sans", sans-serif' text-anchor="start" font-weight="normal" >Frequency (THz)</text>
<text x="30.8" y="845.7" font-size="11" font-family='"Liberation Sans", sans-serif' text-anchor="start" font-weight="bold" >(e)</text>
<text x="59.1" y="845.5" font-size="11.28" font-family='"Liberation Serif", serif' text-anchor="start" font-weight="normal" >Output due to variations in the height of the resonator</text>
<path d="M395.60,579.50 H655.60 V788.60" fill="none" stroke="#333" stroke-width="1.4"/>
<path d="M395.60,579.50 V788.60 H655.60" fill="none" stroke="#1a1a1a" stroke-width="1.2"/>
<line x1="391.6" y1="590.5" x2="395.6" y2="590.5" stroke="#1a1a1a" stroke-width="1.1"/>
<text x="389.0" y="593.6" font-size="8.8" font-family='"Liberation Sans", sans-serif' text-anchor="end" font-weight="normal" >0</text>
<line x1="391.6" y1="637.1" x2="395.6" y2="637.1" stroke="#1a1a1a" stroke-width="1.1"/>
<text x="389.0" y="640.2" font-size="8.8" font-family='"Liberation Sans", sans-serif' text-anchor="end" font-weight="normal" >−10</text>
<line x1="391.6" y1="683.7" x2="395.6" y2="683.7" stroke="#1a1a1a" stroke-width="1.1"/>
<text x="389.0" y="686.8" font-size="8.8" font-family='"Liberation Sans", sans-serif' text-anchor="end" font-weight="normal" >−20</text>
<line x1="391.6" y1="730.3" x2="395.6" y2="730.3" stroke="#1a1a1a" stroke-width="1.1"/>
<text x="389.0" y="733.4" font-size="8.8" font-family='"Liberation Sans", sans-serif' text-anchor="end" font-weight="normal" >−30</text>
<line x1="391.6" y1="776.9" x2="395.6" y2="776.9" stroke="#1a1a1a" stroke-width="1.1"/>
<text x="389.0" y="780.0" font-size="8.8" font-family='"Liberation Sans", sans-serif' text-anchor="end" font-weight="normal" >−40</text>
<line x1="393.2" y1="613.8" x2="395.6" y2="613.8" stroke="#1a1a1a" stroke-width="1.1"/>
<line x1="393.2" y1="660.4" x2="395.6" y2="660.4" stroke="#1a1a1a" stroke-width="1.1"/>
<line x1="393.2" y1="707.0" x2="395.6" y2="707.0" stroke="#1a1a1a" stroke-width="1.1"/>
<line x1="393.2" y1="753.6" x2="395.6" y2="753.6" stroke="#1a1a1a" stroke-width="1.1"/>
<line x1="395.6" y1="788.6" x2="395.6" y2="792.4" stroke="#1a1a1a" stroke-width="1.1"/>
<text x="395.6" y="802.5" font-size="8.8" font-family='"Liberation Sans", sans-serif' text-anchor="middle" font-weight="normal" >4.4</text>
<line x1="447.6" y1="788.6" x2="447.6" y2="792.4" stroke="#1a1a1a" stroke-width="1.1"/>
<text x="447.6" y="802.5" font-size="8.8" font-family='"Liberation Sans", sans-serif' text-anchor="middle" font-weight="normal" >4.6</text>
<line x1="499.6" y1="788.6" x2="499.6" y2="792.4" stroke="#1a1a1a" stroke-width="1.1"/>
<text x="499.6" y="802.5" font-size="8.8" font-family='"Liberation Sans", sans-serif' text-anchor="middle" font-weight="normal" >4.8</text>
<line x1="551.6" y1="788.6" x2="551.6" y2="792.4" stroke="#1a1a1a" stroke-width="1.1"/>
<text x="551.6" y="802.5" font-size="8.8" font-family='"Liberation Sans", sans-serif' text-anchor="middle" font-weight="normal" >5.0</text>
<line x1="603.6" y1="788.6" x2="603.6" y2="792.4" stroke="#1a1a1a" stroke-width="1.1"/>
<text x="603.6" y="802.5" font-size="8.8" font-family='"Liberation Sans", sans-serif' text-anchor="middle" font-weight="normal" >5.2</text>
<line x1="655.6" y1="788.6" x2="655.6" y2="792.4" stroke="#1a1a1a" stroke-width="1.1"/>
<text x="655.6" y="802.5" font-size="8.8" font-family='"Liberation Sans", sans-serif' text-anchor="middle" font-weight="normal" >5.4</text>
<line x1="421.6" y1="788.6" x2="421.6" y2="791.0" stroke="#1a1a1a" stroke-width="1.1"/>
<line x1="473.6" y1="788.6" x2="473.6" y2="791.0" stroke="#1a1a1a" stroke-width="1.1"/>
<line x1="525.6" y1="788.6" x2="525.6" y2="791.0" stroke="#1a1a1a" stroke-width="1.1"/>
<line x1="577.6" y1="788.6" x2="577.6" y2="791.0" stroke="#1a1a1a" stroke-width="1.1"/>
<line x1="629.6" y1="788.6" x2="629.6" y2="791.0" stroke="#1a1a1a" stroke-width="1.1"/>
<path d="M395.6,594.2C412.9,594.5 430.3,594.9 447.6,595.2C466.8,595.5 485.9,595.5 505.1,596.1C510.1,596.3 515.1,597.2 520.1,597.5C528.2,597.9 536.3,598.4 544.3,598.4C553.1,598.4 561.8,596.1 570.6,596.1C583.8,596.1 596.9,596.1 610.1,596.1C615.3,596.1 620.5,598.3 625.7,600.3C629.3,601.6 632.8,605.0 636.4,606.8C642.8,610.0 649.2,612.1 655.6,614.7" fill="none" stroke="#111111" stroke-width="2.0" stroke-dasharray="8 3.3 1.6 3.3" stroke-linejoin="round"/>
<path d="M395.6,599.4C406.0,599.5 416.4,599.5 426.8,599.8C433.0,600.0 439.1,601.4 445.3,603.6C449.6,605.1 453.9,610.4 458.3,617.1C460.9,621.2 463.6,628.6 466.3,638.0C468.1,644.2 469.8,664.6 471.5,664.6C473.3,664.6 475.0,643.3 476.7,638.0C480.2,627.5 483.7,620.6 487.1,617.1C491.5,612.5 496.0,608.2 500.4,608.2C503.8,608.2 507.3,611.1 510.8,613.3C512.8,614.6 514.8,618.5 516.8,618.5C519.9,618.5 523.0,611.7 526.1,609.1C530.5,605.6 534.8,601.4 539.1,600.3C545.2,598.7 551.3,598.4 557.3,597.5C562.6,596.7 567.9,595.4 573.2,595.2C585.5,594.6 597.8,594.4 610.1,594.2C625.3,594.0 640.4,593.9 655.6,593.8" fill="none" stroke="#1a9a3a" stroke-width="2.0" stroke-dasharray="8 3.3 1.6 3.3" stroke-linejoin="round"/>
<path d="M395.6,602.6C398.2,603.6 400.8,604.4 403.4,605.4C406.0,606.4 408.6,608.7 411.2,608.7C414.7,608.7 418.1,605.9 421.6,604.5C425.9,602.7 430.3,600.6 434.6,598.9C438.2,597.5 441.7,595.3 445.3,595.2C454.7,594.8 464.2,594.7 473.6,594.7C484.1,594.7 494.6,595.2 505.1,595.2C510.3,595.2 515.6,595.2 520.9,595.2C526.1,595.2 531.3,597.7 536.5,598.9C541.8,600.1 547.1,602.6 552.4,602.6C557.6,602.6 562.8,602.6 568.0,602.6C573.3,602.6 578.6,598.8 583.8,598.4C592.6,597.8 601.3,597.5 610.1,597.5C615.3,597.5 620.5,599.4 625.7,601.7C629.3,603.2 632.8,606.6 636.4,611.9C638.1,614.6 639.8,624.0 641.6,626.4C644.0,629.8 646.4,632.9 648.8,632.9C651.1,632.9 653.3,630.4 655.6,629.2" fill="none" stroke="#9b3bd6" stroke-width="2.0" stroke-dasharray="8 3.3 1.6 3.3" stroke-linejoin="round"/>
<path d="M395.6,606.8C401.7,605.9 407.7,604.0 413.8,604.0C420.0,604.0 426.1,606.4 432.3,608.2C438.3,610.0 444.4,612.3 450.5,616.1C454.9,618.9 459.3,623.4 463.7,630.1C466.3,634.1 468.9,640.6 471.5,648.8C474.1,656.9 476.7,684.2 479.3,684.2C481.9,684.2 484.5,661.8 487.1,653.9C490.7,643.1 494.2,632.9 497.8,627.8C502.1,621.5 506.4,617.4 510.8,614.7C513.9,612.8 517.0,611.4 520.1,610.5C523.9,609.5 527.6,608.2 531.3,608.2C535.7,608.2 540.0,608.8 544.3,609.6C548.7,610.4 553.0,615.1 557.3,619.9C560.9,623.7 564.4,628.7 568.0,638.0C570.1,643.7 572.3,652.1 574.5,669.7C575.3,676.1 576.0,693.4 576.8,707.0C577.4,717.6 578.0,742.0 578.6,742.0C579.3,742.0 580.0,704.1 580.7,693.0C581.8,676.5 582.8,662.0 583.8,656.7C585.6,647.9 587.3,642.6 589.0,640.8C590.8,639.0 592.5,637.6 594.2,637.6C596.0,637.6 597.7,644.2 599.4,648.8C601.8,654.9 604.1,673.5 606.5,673.5C608.5,673.5 610.4,650.1 612.4,643.6C615.1,635.0 617.8,626.7 620.5,625.0C624.0,622.8 627.4,621.3 630.9,621.3C634.5,621.3 638.0,624.3 641.6,626.4C644.0,627.8 646.4,631.5 648.8,631.5C651.1,631.5 653.3,630.0 655.6,629.2" fill="none" stroke="#e61414" stroke-width="2.0" stroke-dasharray="8 3.3 1.6 3.3" stroke-linejoin="round"/>
<path d="M395.6,630.1C400.8,628.1 406.0,624.1 411.2,624.1C415.5,624.1 419.9,628.5 424.2,632.9C428.2,637.0 432.2,656.7 436.2,656.7C439.2,656.7 442.2,638.8 445.3,632.9C448.7,626.2 452.2,620.5 455.7,617.1C459.2,613.5 462.8,610.2 466.3,609.1C470.7,607.9 475.0,606.8 479.3,606.8C485.5,606.8 491.6,608.3 497.8,610.5C500.2,611.4 502.6,613.9 505.1,617.1C507.0,619.6 508.9,624.8 510.8,630.1C511.9,633.3 513.0,637.1 514.2,641.8C515.5,647.1 516.8,659.7 518.1,661.8C519.9,664.8 521.7,663.7 523.5,666.9C524.6,669.0 525.8,680.7 526.9,693.0C528.0,705.4 529.2,756.9 530.3,756.9C531.3,756.9 532.4,699.5 533.4,683.7C534.4,668.0 535.5,654.2 536.5,648.8C539.1,635.2 541.7,629.1 544.3,625.0C547.8,619.5 551.3,614.3 554.7,614.3C558.3,614.3 561.8,615.5 565.4,617.1C568.8,618.6 572.3,624.4 575.8,630.1C578.5,634.5 581.2,639.5 583.8,648.8C585.6,654.7 587.3,659.4 589.0,680.0C589.7,688.2 590.4,771.8 591.1,771.8C592.0,771.8 592.9,708.6 593.7,693.0C594.8,674.4 595.8,659.0 596.8,653.9C599.4,641.2 602.0,638.0 604.6,632.9C608.2,626.0 611.7,620.2 615.3,617.1C619.6,613.3 624.0,610.8 628.3,609.1C632.7,607.4 637.1,605.4 641.6,605.4C646.2,605.4 650.9,606.3 655.6,606.8" fill="none" stroke="#1040d4" stroke-width="2.0" stroke-dasharray="8 3.3 1.6 3.3" stroke-linejoin="round"/>
<rect x="411.2" y="715.9" width="45.4" height="56.7" fill="#fff" stroke="#8a8a8a" stroke-width="1"/>
<path d="M413.9,722.4 H421.8 M425.0,722.4 H427.0" stroke="#111111" stroke-width="2.0" fill="none"/>
<text x="435.2" y="726.0" font-size="9.0" font-family='"Liberation Serif", serif' text-anchor="start" font-weight="normal" >t2=20</text>
<path d="M413.9,733.4 H421.8 M425.0,733.4 H427.0" stroke="#e61414" stroke-width="2.0" fill="none"/>
<text x="435.2" y="737.0" font-size="9.0" font-family='"Liberation Serif", serif' text-anchor="start" font-weight="normal" >t2=25</text>
<path d="M413.9,744.4 H421.8 M425.0,744.4 H427.0" stroke="#1040d4" stroke-width="2.0" fill="none"/>
<text x="435.2" y="748.0" font-size="9.0" font-family='"Liberation Serif", serif' text-anchor="start" font-weight="normal" >t2=30</text>
<path d="M413.9,755.4 H421.8 M425.0,755.4 H427.0" stroke="#1a9a3a" stroke-width="2.0" fill="none"/>
<text x="435.2" y="759.0" font-size="9.0" font-family='"Liberation Serif", serif' text-anchor="start" font-weight="normal" >t2=35</text>
<path d="M413.9,766.5 H421.8 M425.0,766.5 H427.0" stroke="#9b3bd6" stroke-width="2.0" fill="none"/>
<text x="435.2" y="770.1" font-size="9.0" font-family='"Liberation Serif", serif' text-anchor="start" font-weight="normal" >t2=40</text>
<text x="0" y="0" font-size="11.9" font-family='"Liberation Serif", serif' text-anchor="middle" transform="translate(369.0,684.6) rotate(-90)">Reflectance(dB)</text>
<text x="486.3" y="820.3" font-size="11.8" font-family='"Liberation Serif", serif' text-anchor="start" font-weight="normal" >Frequency(THz)</text>
<text x="365.5" y="845.9" font-size="10.5" font-family='"Liberation Sans", sans-serif' text-anchor="start" font-weight="bold" >(f)</text>
<text x="393.9" y="845.9" font-size="11.28" font-family='"Liberation Serif", serif' text-anchor="start" font-weight="normal" >Reflectance response for changes in height of the substrate layer</text>
<text x="535.2" y="865.2" font-size="11.28" font-family='"Liberation Serif", serif' text-anchor="start" font-weight="normal" >t<tspan font-size="7.5" dy="2">2</tspan></text>
<path d="M218.50,880.00 H477.40 V1088.30" fill="none" stroke="#888" stroke-width="1.5"/>
<path d="M218.50,880.00 V1088.30 H477.40" fill="none" stroke="#1a1a1a" stroke-width="1.2"/>
<line x1="214.5" y1="900.8" x2="218.5" y2="900.8" stroke="#1a1a1a" stroke-width="1.1"/>
<text x="211.9" y="903.9" font-size="8.8" font-family='"Liberation Sans", sans-serif' text-anchor="end" font-weight="normal" >0</text>
<line x1="214.5" y1="942.5" x2="218.5" y2="942.5" stroke="#1a1a1a" stroke-width="1.1"/>
<text x="211.9" y="945.6" font-size="8.8" font-family='"Liberation Sans", sans-serif' text-anchor="end" font-weight="normal" >−10</text>
<line x1="214.5" y1="984.1" x2="218.5" y2="984.1" stroke="#1a1a1a" stroke-width="1.1"/>
<text x="211.9" y="987.2" font-size="8.8" font-family='"Liberation Sans", sans-serif' text-anchor="end" font-weight="normal" >−20</text>
<line x1="214.5" y1="1025.8" x2="218.5" y2="1025.8" stroke="#1a1a1a" stroke-width="1.1"/>
<text x="211.9" y="1028.9" font-size="8.8" font-family='"Liberation Sans", sans-serif' text-anchor="end" font-weight="normal" >−30</text>
<line x1="214.5" y1="1067.5" x2="218.5" y2="1067.5" stroke="#1a1a1a" stroke-width="1.1"/>
<text x="211.9" y="1070.6" font-size="8.8" font-family='"Liberation Sans", sans-serif' text-anchor="end" font-weight="normal" >−40</text>
<line x1="216.1" y1="921.7" x2="218.5" y2="921.7" stroke="#1a1a1a" stroke-width="1.1"/>
<line x1="216.1" y1="963.3" x2="218.5" y2="963.3" stroke="#1a1a1a" stroke-width="1.1"/>
<line x1="216.1" y1="1005.0" x2="218.5" y2="1005.0" stroke="#1a1a1a" stroke-width="1.1"/>
<line x1="216.1" y1="1046.6" x2="218.5" y2="1046.6" stroke="#1a1a1a" stroke-width="1.1"/>
<line x1="218.5" y1="1088.3" x2="218.5" y2="1092.1" stroke="#1a1a1a" stroke-width="1.1"/>
<text x="218.5" y="1102.0" font-size="8.8" font-family='"Liberation Sans", sans-serif' text-anchor="middle" font-weight="normal" >4.4</text>
<line x1="270.3" y1="1088.3" x2="270.3" y2="1092.1" stroke="#1a1a1a" stroke-width="1.1"/>
<text x="270.3" y="1102.0" font-size="8.8" font-family='"Liberation Sans", sans-serif' text-anchor="middle" font-weight="normal" >4.6</text>
<line x1="322.1" y1="1088.3" x2="322.1" y2="1092.1" stroke="#1a1a1a" stroke-width="1.1"/>
<text x="322.1" y="1102.0" font-size="8.8" font-family='"Liberation Sans", sans-serif' text-anchor="middle" font-weight="normal" >4.8</text>
<line x1="373.8" y1="1088.3" x2="373.8" y2="1092.1" stroke="#1a1a1a" stroke-width="1.1"/>
<text x="373.8" y="1102.0" font-size="8.8" font-family='"Liberation Sans", sans-serif' text-anchor="middle" font-weight="normal" >5.0</text>
<line x1="425.6" y1="1088.3" x2="425.6" y2="1092.1" stroke="#1a1a1a" stroke-width="1.1"/>
<text x="425.6" y="1102.0" font-size="8.8" font-family='"Liberation Sans", sans-serif' text-anchor="middle" font-weight="normal" >5.2</text>
<line x1="477.4" y1="1088.3" x2="477.4" y2="1092.1" stroke="#1a1a1a" stroke-width="1.1"/>
<text x="477.4" y="1102.0" font-size="8.8" font-family='"Liberation Sans", sans-serif' text-anchor="middle" font-weight="normal" >5.4</text>
<line x1="244.4" y1="1088.3" x2="244.4" y2="1090.7" stroke="#1a1a1a" stroke-width="1.1"/>
<line x1="296.2" y1="1088.3" x2="296.2" y2="1090.7" stroke="#1a1a1a" stroke-width="1.1"/>
<line x1="347.9" y1="1088.3" x2="347.9" y2="1090.7" stroke="#1a1a1a" stroke-width="1.1"/>
<line x1="399.7" y1="1088.3" x2="399.7" y2="1090.7" stroke="#1a1a1a" stroke-width="1.1"/>
<line x1="451.5" y1="1088.3" x2="451.5" y2="1090.7" stroke="#1a1a1a" stroke-width="1.1"/>
<path d="M218.5,962.5C219.9,961.5 221.3,960.9 222.6,959.6C225.3,956.9 228.0,948.0 230.7,943.7C235.1,936.7 239.5,930.3 243.9,926.7C248.2,923.1 252.5,919.7 256.8,918.7C263.0,917.3 269.2,916.2 275.5,916.2C281.6,916.2 287.7,916.7 293.8,917.5C299.1,918.1 304.4,921.5 309.6,925.4C313.1,928.0 316.5,932.6 320.0,938.3C322.7,942.7 325.3,947.2 328.0,957.1C329.5,962.5 330.9,972.5 332.4,988.3C333.1,995.7 333.8,1010.9 334.5,1025.8C334.9,1035.1 335.4,1059.1 335.8,1059.1C336.4,1059.1 337.0,1024.3 337.6,1013.3C338.3,1000.7 339.0,990.5 339.7,984.1C340.4,977.8 341.0,973.3 341.7,970.0C344.3,957.5 346.9,947.0 349.5,943.7C353.0,939.3 356.6,935.8 360.1,935.8C364.5,935.8 368.9,942.3 373.3,946.7C375.9,949.2 378.5,955.8 381.1,955.8C384.6,955.8 388.2,949.6 391.7,946.7C395.2,943.8 398.6,939.8 402.1,938.3C406.5,936.4 410.9,936.5 415.3,934.6C418.7,933.1 422.2,928.1 425.6,925.4C430.0,922.0 434.4,917.8 438.8,916.2C445.0,914.1 451.1,912.7 457.2,912.1C463.9,911.4 470.7,911.2 477.4,910.8" fill="none" stroke="#111111" stroke-width="1.9" stroke-dasharray="7.5 3.6 1.5 3.6" stroke-linejoin="round"/>
<path d="M218.5,934.6C221.7,935.8 224.9,936.3 228.1,938.3C230.7,939.9 233.3,945.4 235.8,949.2C238.8,953.4 241.7,962.5 244.6,962.5C247.0,962.5 249.3,950.9 251.6,946.2C255.2,939.2 258.7,931.5 262.3,927.9C266.7,923.5 271.1,919.9 275.5,918.7C280.7,917.4 286.0,916.2 291.3,916.2C298.2,916.2 305.2,916.6 312.2,917.5C315.9,917.9 319.6,921.6 323.4,925.8C325.9,928.8 328.5,935.5 331.1,942.5C333.1,947.8 335.1,953.9 337.1,963.3C338.3,969.1 339.5,978.1 340.7,988.3C341.7,997.1 342.8,1005.7 343.8,1021.6C344.4,1031.0 345.0,1065.8 345.6,1065.8C346.4,1065.8 347.2,1019.0 347.9,1005.0C349.0,986.3 350.0,969.9 351.1,963.3C352.4,955.1 353.6,950.9 354.9,947.5C357.5,940.7 360.1,936.1 362.7,933.3C365.7,930.1 368.7,926.7 371.8,926.7C374.9,926.7 378.0,930.4 381.1,933.3C383.7,935.8 386.3,939.0 388.9,943.7C391.1,947.8 393.3,954.7 395.6,962.5C397.1,967.9 398.7,983.3 400.2,983.3C402.6,983.3 404.9,963.1 407.2,957.1C409.9,950.1 412.6,945.2 415.3,941.2C419.6,934.9 423.9,929.4 428.2,926.7C434.3,922.7 440.5,920.0 446.6,918.7C456.9,916.7 467.1,916.2 477.4,915.0" fill="none" stroke="#e61414" stroke-width="1.9" stroke-dasharray="7.5 3.6 1.5 3.6" stroke-linejoin="round"/>
<path d="M218.5,934.2C224.3,932.9 230.1,930.4 235.8,930.4C239.4,930.4 242.9,933.8 246.5,937.1C249.1,939.4 251.6,944.9 254.2,949.2C256.5,952.8 258.7,960.8 261.0,960.8C263.1,960.8 265.3,950.5 267.4,946.2C271.0,939.2 274.5,931.5 278.0,927.9C282.4,923.5 286.8,919.9 291.3,918.7C296.4,917.4 301.6,916.2 306.8,916.2C312.0,916.2 317.3,917.2 322.6,918.7C326.1,919.8 329.7,925.0 333.2,930.4C335.9,934.5 338.5,940.5 341.2,949.2C343.0,955.0 344.8,963.6 346.7,975.8C347.8,983.4 348.9,995.5 350.0,1009.1C350.9,1019.6 351.7,1048.7 352.6,1048.7C353.5,1048.7 354.3,1003.9 355.2,992.5C356.2,978.7 357.3,969.7 358.3,963.3C359.8,954.3 361.2,948.4 362.7,943.7C365.3,935.5 367.9,927.6 370.5,925.4C373.1,923.1 375.8,921.2 378.5,921.2C382.9,921.2 387.3,925.6 391.7,930.4C395.2,934.2 398.6,944.1 402.1,954.6C403.8,959.8 405.5,964.8 407.2,975.4C408.6,983.9 410.0,1004.1 411.4,1025.8C412.0,1035.3 412.6,1062.5 413.2,1062.5C413.9,1062.5 414.6,1015.7 415.3,1005.0C417.0,978.3 418.7,961.5 420.4,954.6C423.0,944.1 425.6,939.6 428.2,935.8C432.6,929.3 437.0,924.9 441.4,922.5C448.4,918.7 455.4,915.3 462.4,915.0C467.4,914.7 472.4,914.7 477.4,914.6" fill="none" stroke="#1040d4" stroke-width="1.9" stroke-dasharray="7.5 3.6 1.5 3.6" stroke-linejoin="round"/>
<path d="M218.5,941.2C222.6,938.6 226.6,935.3 230.7,933.3C234.1,931.6 237.6,929.2 241.0,929.2C245.4,929.2 249.8,930.1 254.2,931.7C256.9,932.6 259.6,937.1 262.3,941.2C265.3,945.9 268.3,960.8 271.3,960.8C273.6,960.8 275.8,948.5 278.0,943.7C281.5,936.4 285.0,928.6 288.4,925.4C292.8,921.4 297.2,917.7 301.6,917.5C308.6,917.2 315.6,917.1 322.6,917.1C327.0,917.1 331.4,922.0 335.8,927.9C338.9,932.1 342.0,943.4 345.1,957.1C346.1,961.2 347.0,969.5 347.9,974.6C349.2,981.4 350.5,983.6 351.8,992.5C353.2,1002.0 354.6,1050.0 356.0,1050.0C356.9,1050.0 357.9,997.5 358.8,984.1C359.9,968.4 361.1,957.0 362.2,950.8C364.3,939.0 366.5,931.4 368.7,927.9C371.3,923.7 373.8,921.3 376.4,920.0C378.8,918.8 381.3,917.5 383.7,917.5C388.9,917.5 394.2,922.9 399.5,927.9C403.9,932.1 408.3,938.4 412.7,949.2C414.4,953.4 416.1,959.3 417.9,970.0C419.1,977.5 420.3,1012.9 421.5,1012.9C422.4,1012.9 423.4,990.6 424.3,984.1C425.6,975.4 426.9,970.2 428.2,965.0C430.9,954.1 433.6,943.5 436.2,938.3C440.6,929.8 445.0,923.5 449.4,921.2C458.8,916.6 468.1,916.0 477.4,913.3" fill="none" stroke="#1a9a3a" stroke-width="1.9" stroke-dasharray="7.5 3.6 1.5 3.6" stroke-linejoin="round"/>
<path d="M218.5,949.2C222.6,944.7 226.6,938.7 230.7,935.8C235.9,932.1 241.2,927.9 246.5,927.9C251.7,927.9 257.0,928.9 262.3,930.4C265.8,931.4 269.3,934.9 272.9,941.2C274.6,944.3 276.3,963.7 278.0,963.7C279.8,963.7 281.5,950.7 283.2,946.2C286.8,937.2 290.3,928.8 293.8,925.4C298.2,921.3 302.5,917.5 306.8,917.5C313.0,917.5 319.2,917.9 325.4,918.7C328.9,919.2 332.3,924.3 335.8,930.4C338.5,935.1 341.1,950.0 343.8,959.6C344.8,963.0 345.7,967.4 346.7,969.6C347.9,972.5 349.2,972.7 350.5,975.8C352.3,980.0 354.0,989.9 355.7,1005.0C356.9,1015.5 358.1,1067.1 359.3,1067.1C360.3,1067.1 361.2,1008.6 362.2,992.5C363.3,973.4 364.4,957.9 365.6,950.8C367.5,938.8 369.4,931.5 371.3,927.9C373.8,923.0 376.4,920.1 379.0,918.7C381.4,917.5 383.9,916.2 386.3,916.2C392.4,916.2 398.5,920.8 404.6,925.4C409.1,928.7 413.5,934.8 417.9,943.7C420.4,949.0 423.0,955.9 425.6,970.0C426.4,974.2 427.2,992.1 428.0,992.1C428.9,992.1 429.8,979.8 430.8,975.8C432.6,968.1 434.4,963.7 436.2,958.3C439.7,948.1 443.1,935.5 446.6,930.4C451.0,924.0 455.4,918.9 459.8,917.5C465.7,915.6 471.5,915.3 477.4,914.2" fill="none" stroke="#9b3bd6" stroke-width="1.9" stroke-dasharray="7.5 3.6 1.5 3.6" stroke-linejoin="round"/>
<rect x="239.1" y="1017.9" width="52.3" height="56.5" fill="#fff" stroke="#8a8a8a" stroke-width="1"/>
<path d="M242.1,1024.4 H249.6 M253.1,1024.4 H254.8" stroke="#111111" stroke-width="2.0" fill="none"/>
<text x="262.8" y="1028.0" font-size="9.0" font-family='"Liberation Serif", serif' text-anchor="start" font-weight="normal" >t3=0.20</text>
<path d="M242.1,1035.0 H249.6 M253.1,1035.0 H254.8" stroke="#e61414" stroke-width="2.0" fill="none"/>
<text x="262.8" y="1038.6" font-size="9.0" font-family='"Liberation Serif", serif' text-anchor="start" font-weight="normal" >t3=0.25</text>
<path d="M242.1,1046.0 H249.6 M253.1,1046.0 H254.8" stroke="#1040d4" stroke-width="2.0" fill="none"/>
<text x="262.8" y="1049.6" font-size="9.0" font-family='"Liberation Serif", serif' text-anchor="start" font-weight="normal" >t3=0.30</text>
<path d="M242.1,1057.0 H249.6 M253.1,1057.0 H254.8" stroke="#1a9a3a" stroke-width="2.0" fill="none"/>
<text x="262.8" y="1060.6" font-size="9.0" font-family='"Liberation Serif", serif' text-anchor="start" font-weight="normal" >t3=0.35</text>
<path d="M242.1,1068.3 H249.6 M253.1,1068.3 H254.8" stroke="#9b3bd6" stroke-width="2.0" fill="none"/>
<text x="262.8" y="1071.9" font-size="9.0" font-family='"Liberation Serif", serif' text-anchor="start" font-weight="normal" >t3=0.40</text>
<text x="0" y="0" font-size="11.9" font-family='"Liberation Serif", serif' text-anchor="middle" transform="translate(191.0,984.0) rotate(-90)">Reflectance(dB)</text>
<text x="308.3" y="1119.6" font-size="11.8" font-family='"Liberation Serif", serif' text-anchor="start" font-weight="normal" >Frequency(THz)</text>
<text x="193.1" y="1145.5" font-size="11.3" font-family='"Liberation Serif", serif' text-anchor="start" font-weight="bold" >(g)</text>
<text x="217.8" y="1145.5" font-size="11.28" font-family='"Liberation Serif", serif' text-anchor="start" font-weight="normal" >Reflectance response for changes in ground layer thickness t<tspan font-size="7.5" dy="2">3</tspan><tspan dy="-2">.</tspan></text>
<path d="M460.5,183.3 L465.6,189.4" stroke="#222" stroke-width="1.1" fill="none"/>
<path d="M528,480.5 L523.5,484.3" stroke="#333" stroke-width="0.9" fill="none"/>
<path d="M545.4,753.8 Q542.6,761 548.6,767.4" stroke="#111" stroke-width="1.4" fill="none"/>
<path d="M376.6,1045 Q373.6,1053 380,1059.6" stroke="#111" stroke-width="1.3" fill="none"/>
</svg>
</body></html>
